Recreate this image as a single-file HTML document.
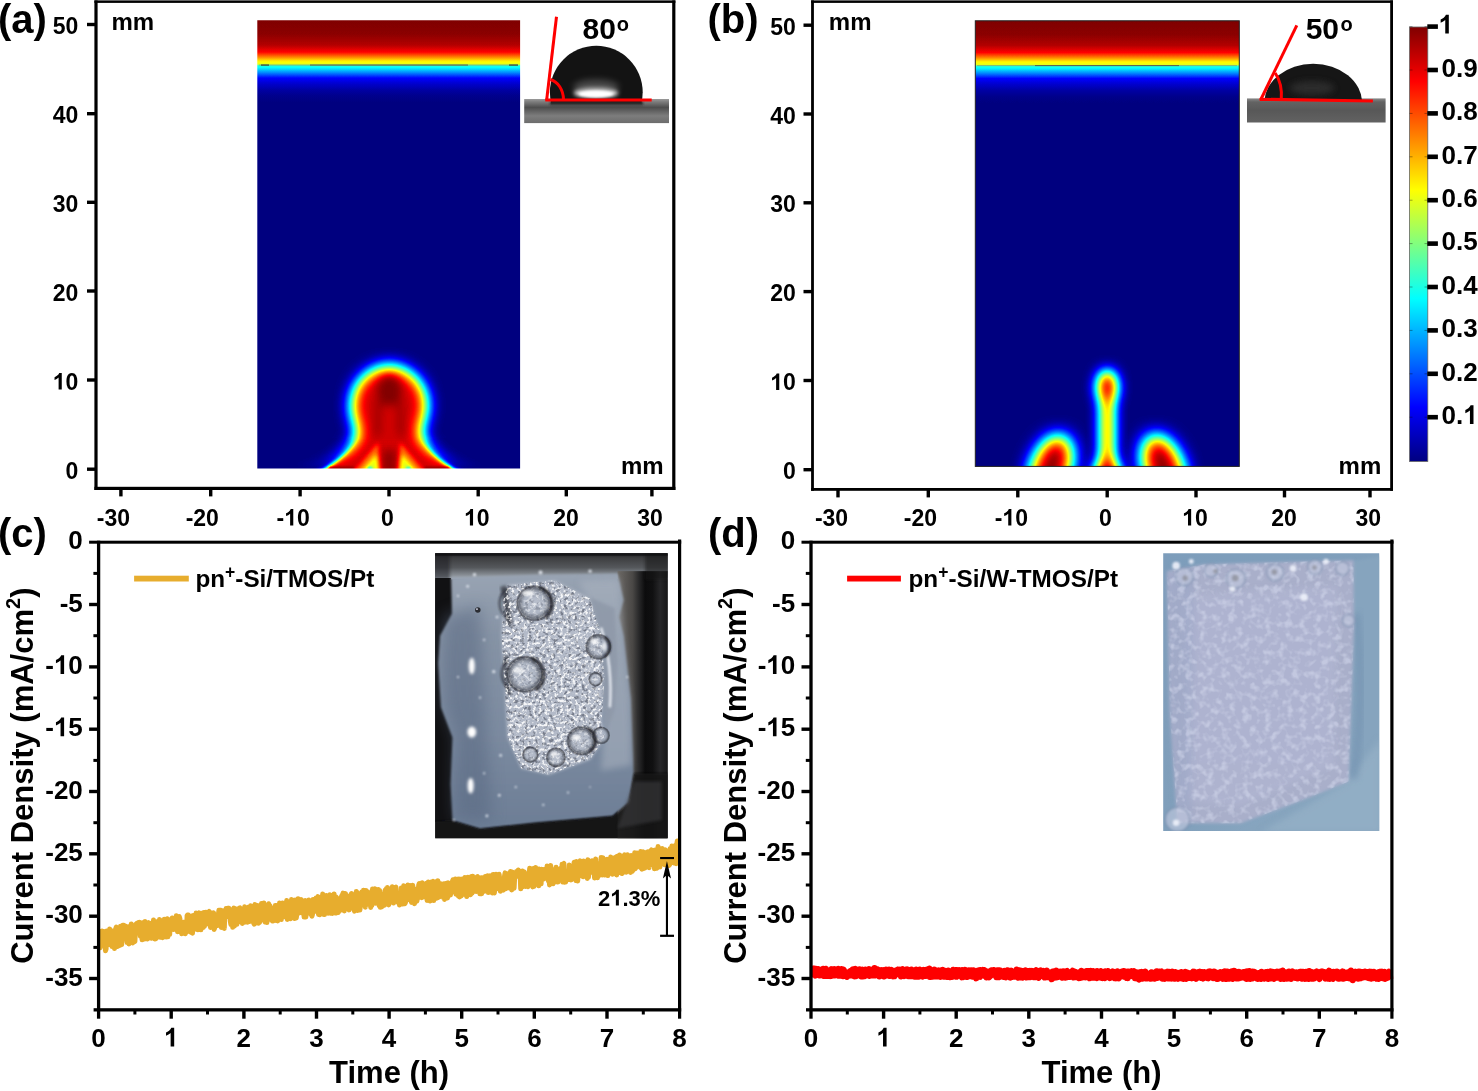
<!DOCTYPE html>
<html><head><meta charset="utf-8"><title>Figure</title>
<style>
html,body{margin:0;padding:0;background:#fff;}
body{width:1478px;height:1091px;overflow:hidden;position:relative;font-family:"Liberation Sans",sans-serif;}
svg{position:absolute;left:0;top:0;display:block;}
text{font-family:"Liberation Sans",sans-serif;font-weight:bold;fill:#000;}
svg{will-change:transform;}
</style></head><body>
<svg width="1478" height="1091" viewBox="0 0 1478 1091">
<defs>
<filter id="jet" color-interpolation-filters="sRGB" x="0" y="0" width="1" height="1" filterUnits="objectBoundingBox">
 <feComponentTransfer>
  <feFuncR type="table" tableValues="0 0 0 0 0.5 1 1 1 0.5"/>
  <feFuncG type="table" tableValues="0 0 0.5 1 1 1 0.5 0 0"/>
  <feFuncB type="table" tableValues="0.5 1 1 1 0.5 0 0 0 0"/>
 </feComponentTransfer>
</filter>
<filter id="b65" x="-50%" y="-50%" width="200%" height="200%" color-interpolation-filters="sRGB"><feGaussianBlur stdDeviation="6.5"/></filter>
<filter id="b8" x="-50%" y="-50%" width="200%" height="200%" color-interpolation-filters="sRGB"><feGaussianBlur stdDeviation="8"/></filter>
<filter id="b5" x="-50%" y="-50%" width="200%" height="200%" color-interpolation-filters="sRGB"><feGaussianBlur stdDeviation="4.5"/></filter>
<filter id="b7" x="-50%" y="-50%" width="200%" height="200%" color-interpolation-filters="sRGB"><feGaussianBlur stdDeviation="7"/></filter>
<filter id="b6" x="-50%" y="-50%" width="200%" height="200%" color-interpolation-filters="sRGB"><feGaussianBlur stdDeviation="6"/></filter>
<filter id="b9" x="-50%" y="-50%" width="200%" height="200%" color-interpolation-filters="sRGB"><feGaussianBlur stdDeviation="9"/></filter>
<filter id="b25" x="-50%" y="-50%" width="200%" height="200%" color-interpolation-filters="sRGB"><feGaussianBlur stdDeviation="2.2"/></filter>
<filter id="b1" x="-50%" y="-50%" width="200%" height="200%"><feGaussianBlur stdDeviation="1"/></filter>
<filter id="b2" x="-50%" y="-50%" width="200%" height="200%"><feGaussianBlur stdDeviation="2"/></filter>
<filter id="b3" x="-50%" y="-50%" width="200%" height="200%"><feGaussianBlur stdDeviation="3"/></filter>
<filter id="b4" x="-50%" y="-50%" width="200%" height="200%"><feGaussianBlur stdDeviation="4"/></filter>
<linearGradient id="topband" x1="0" y1="20.3" x2="0" y2="110.3" gradientUnits="userSpaceOnUse">
 <stop offset="0.0000" stop-color="rgb(255,255,255)"/>
 <stop offset="0.1522" stop-color="rgb(252,252,252)"/>
 <stop offset="0.2744" stop-color="rgb(242,242,242)"/>
 <stop offset="0.3522" stop-color="rgb(223,223,223)"/>
 <stop offset="0.4078" stop-color="rgb(191,191,191)"/>
 <stop offset="0.4522" stop-color="rgb(163,163,163)"/>
 <stop offset="0.4878" stop-color="rgb(153,153,153)"/>
 <stop offset="0.5033" stop-color="rgb(105,105,105)"/>
 <stop offset="0.5300" stop-color="rgb(93,93,93)"/>
 <stop offset="0.5856" stop-color="rgb(64,64,64)"/>
 <stop offset="0.6411" stop-color="rgb(32,32,32)"/>
 <stop offset="0.7078" stop-color="rgb(19,19,19)"/>
 <stop offset="0.7744" stop-color="rgb(9,9,9)"/>
 <stop offset="0.8411" stop-color="rgb(3,3,3)"/>
 <stop offset="0.9189" stop-color="rgb(0,0,0)"/>
 <stop offset="1.0000" stop-color="rgb(0,0,0)"/>
</linearGradient>
<linearGradient id="cbar" x1="0" y1="27" x2="0" y2="461.5" gradientUnits="userSpaceOnUse">
 <stop offset="0" stop-color="#800000"/><stop offset="0.125" stop-color="#ff0000"/><stop offset="0.375" stop-color="#ffff00"/>
 <stop offset="0.5" stop-color="#80ff80"/><stop offset="0.625" stop-color="#00ffff"/><stop offset="0.875" stop-color="#0000ff"/><stop offset="1" stop-color="#000080"/>
</linearGradient>
<linearGradient id="subA" x1="0" y1="0" x2="0" y2="1">
 <stop offset="0" stop-color="#9a9a9a"/><stop offset="0.12" stop-color="#7c7c7c"/><stop offset="0.35" stop-color="#4e4e4e"/><stop offset="0.7" stop-color="#7d7d7d"/><stop offset="1" stop-color="#6c6c6c"/>
</linearGradient>
<linearGradient id="subB" x1="0" y1="0" x2="0" y2="1">
 <stop offset="0" stop-color="#8a8a8a"/><stop offset="0.15" stop-color="#636363"/><stop offset="0.5" stop-color="#585858"/><stop offset="1" stop-color="#626262"/>
</linearGradient>
<clipPath id="clipA"><rect x="257.3" y="20.3" width="262.8" height="448.2"/></clipPath>
<clipPath id="clipB"><rect x="975.3" y="20.8" width="264" height="445.6"/></clipPath>
<clipPath id="clipPC"><rect x="435.2" y="553.3" width="232.4" height="285"/></clipPath>
<clipPath id="clipPD"><rect x="1163.2" y="553.3" width="216" height="277.7"/></clipPath>
</defs>
<defs>
<linearGradient id="mgradA" x1="0" y1="438" x2="0" y2="469" gradientUnits="userSpaceOnUse"><stop offset="0" stop-color="#000"/><stop offset="0.55" stop-color="#777"/><stop offset="1" stop-color="#fff"/></linearGradient>
<mask id="maskA" maskUnits="userSpaceOnUse" x="240" y="340" width="300" height="160"><rect x="240" y="340" width="300" height="160" fill="url(#mgradA)"/></mask>
</defs>
<g clip-path="url(#clipA)"><g filter="url(#jet)">
<rect x="240" y="0" width="300" height="490" fill="#000"/>
<rect x="240" y="0" width="300" height="111" fill="url(#topband)"/>
<g filter="url(#b8)"><path fill="#ebebeb" d="M389.2,365.5 C375.5,365.5 359.5,375 353.5,392 C349.5,404 351,415 355,424 C358,431 357.5,437 353.5,443 C346.5,454 336,462 324.5,469.2 L321,471 L300,478 L300,510 L478,510 L478,478 L457.4,471 L453.9,469.2 C442.4,462 431.9,454 424.9,443 C420.9,437 420.4,431 422.9,424 C427.4,415 428.9,404 424.9,392 C418.9,375 402.9,365.5 389.2,365.5 Z"/></g>
<g mask="url(#maskA)"><rect x="240" y="420" width="300" height="60" fill="#000"/><g filter="url(#b25)"><path fill="#ebebeb" d="M389.2,365.5 C375.5,365.5 359.5,375 353.5,392 C349.5,404 351,415 355,424 C358,431 357.5,437 353.5,443 C346.5,454 336,462 324.5,469.2 L321,471 L300,478 L300,510 L478,510 L478,478 L457.4,471 L453.9,469.2 C442.4,462 431.9,454 424.9,443 C420.9,437 420.4,431 422.9,424 C427.4,415 428.9,404 424.9,392 C418.9,375 402.9,365.5 389.2,365.5 Z"/></g></g>
<g filter="url(#b5)">
<ellipse cx="389.2" cy="391" rx="12" ry="15" fill="#fff" opacity="0.95"/>
<path d="M378.5,400 L377.5,436" stroke="#fff" stroke-width="6" opacity="0.7" fill="none"/>
<path d="M399.9,400 L400.9,436" stroke="#fff" stroke-width="6" opacity="0.7" fill="none"/>
<path d="M389.2,450 L389.2,480" stroke="#fff" stroke-width="12" opacity="0.85" fill="none"/>
</g>
<g filter="url(#b25)">
<path fill="#000" opacity="0.17" d="M378,443 L380.5,474 L352,474 Z"/>
<path fill="#000" opacity="0.17" d="M400.4,443 L397.9,474 L426.4,474 Z"/>
<path fill="#000" opacity="0.22" d="M376.5,454 L379.5,474 L359,474 Z"/>
<path fill="#000" opacity="0.22" d="M401.9,454 L398.9,474 L419.4,474 Z"/>
</g>
<g filter="url(#b1)">
<ellipse cx="370" cy="468.6" rx="2.6" ry="2" fill="#000" opacity="0.32"/>
<ellipse cx="408.4" cy="468.6" rx="2.6" ry="2" fill="#000" opacity="0.32"/>
<path d="M329,468.2 L354,468.2" stroke="#fff" stroke-width="2.5" opacity="0.9"/>
<path d="M424.4,468.2 L449.4,468.2" stroke="#fff" stroke-width="2.5" opacity="0.9"/>
</g>
</g></g>
<rect x="259" y="64.5" width="259" height="1.1" fill="#8a8a70" opacity="0.55"/><rect x="310" y="64.5" width="158" height="1.1" fill="#5c5c4c" opacity="0.9"/><rect x="261" y="64.5" width="8" height="1.1" fill="#333"/><rect x="509" y="64.5" width="9" height="1.1" fill="#333"/>
<g clip-path="url(#clipB)"><g filter="url(#jet)" transform="translate(718.2,0.5)">
<rect x="240" y="0" width="300" height="490" fill="#000"/>
<rect x="240" y="0" width="300" height="111" fill="url(#topband)"/>
<g filter="url(#b9)">
<ellipse cx="332.5" cy="468" rx="19" ry="35" fill="#fff" transform="rotate(20 332.5 468)"/>
<ellipse cx="445.5" cy="468" rx="19" ry="35" fill="#fff" transform="rotate(-20 445.5 468)"/>
</g>
<g filter="url(#b7)">
<rect x="383" y="395" width="12" height="100" fill="#fff"/>
<ellipse cx="389" cy="387" rx="10" ry="17.5" fill="#fff"/>
<path d="M389,444 L403,472 L403,490 L375,490 L375,472 Z" fill="#fff"/>
</g>
</g></g>
<rect x="975.3" y="20.8" width="264" height="445.6" fill="none" stroke="#222" stroke-width="1"/>
<rect x="977" y="65" width="260" height="1.1" fill="#8a8a70" opacity="0.55"/><rect x="1035" y="65" width="144" height="1.1" fill="#5c5c4c" opacity="0.9"/>
<rect x="94.40" y="0.4" width="581.00" height="2.5" fill="#000"/>
<rect x="94.40" y="486.80" width="581.00" height="3.2" fill="#000"/>
<rect x="94.40" y="0.4" width="3.2" height="489.60" fill="#000"/>
<rect x="672.20" y="0.4" width="3.2" height="489.60" fill="#000"/>
<rect x="119.20" y="488.4" width="3.4" height="8" fill="#000"/>
<rect x="209.00" y="488.4" width="3.4" height="8" fill="#000"/>
<rect x="298.40" y="488.4" width="3.4" height="8" fill="#000"/>
<rect x="387.30" y="488.4" width="3.4" height="8" fill="#000"/>
<rect x="476.50" y="488.4" width="3.4" height="8" fill="#000"/>
<rect x="564.60" y="488.4" width="3.4" height="8" fill="#000"/>
<rect x="650.20" y="488.4" width="3.4" height="8" fill="#000"/>
<rect x="87.00" y="22.80" width="9" height="3.4" fill="#000"/>
<rect x="87.00" y="112.00" width="9" height="3.4" fill="#000"/>
<rect x="87.00" y="200.60" width="9" height="3.4" fill="#000"/>
<rect x="87.00" y="289.30" width="9" height="3.4" fill="#000"/>
<rect x="87.00" y="378.30" width="9" height="3.4" fill="#000"/>
<rect x="87.00" y="467.50" width="9" height="3.4" fill="#000"/>
<text x="113.4" y="525.6" font-size="23" text-anchor="middle">-30</text>
<text x="202.3" y="525.6" font-size="23" text-anchor="middle">-20</text>
<text x="276.58" y="525.6" font-size="23">-</text>
<path transform="translate(284.24,525.6) scale(23)" d="M0.393,0 H0.256 V-0.517 Q0.181,-0.447 0.079,-0.413 V-0.538 Q0.133,-0.556 0.196,-0.605 Q0.259,-0.654 0.282,-0.719 H0.393 Z"/>
<text x="297.03" y="525.6" font-size="23">0</text>
<text x="387.4" y="525.6" font-size="23" text-anchor="middle">0</text>
<path transform="translate(464.01,525.6) scale(23)" d="M0.393,0 H0.256 V-0.517 Q0.181,-0.447 0.079,-0.413 V-0.538 Q0.133,-0.556 0.196,-0.605 Q0.259,-0.654 0.282,-0.719 H0.393 Z"/>
<text x="476.80" y="525.6" font-size="23">0</text>
<text x="566" y="525.6" font-size="23" text-anchor="middle">20</text>
<text x="650.1" y="525.6" font-size="23" text-anchor="middle">30</text>
<text x="78.3" y="34" font-size="23" text-anchor="end">50</text>
<text x="78.3" y="123.2" font-size="23" text-anchor="end">40</text>
<text x="78.3" y="211.7" font-size="23" text-anchor="end">30</text>
<text x="78.3" y="300.5" font-size="23" text-anchor="end">20</text>
<path transform="translate(52.72,389.5) scale(23)" d="M0.393,0 H0.256 V-0.517 Q0.181,-0.447 0.079,-0.413 V-0.538 Q0.133,-0.556 0.196,-0.605 Q0.259,-0.654 0.282,-0.719 H0.393 Z"/>
<text x="65.51" y="389.5" font-size="23">0</text>
<text x="78.3" y="478.7" font-size="23" text-anchor="end">0</text>
<text x="111.5" y="30.2" font-size="24">mm</text>
<text x="621" y="473.6" font-size="24">mm</text>
<rect x="811.10" y="0.4" width="581.90" height="2.5" fill="#000"/>
<rect x="811.10" y="488.00" width="581.90" height="2.8" fill="#000"/>
<rect x="811.10" y="0.4" width="2.8" height="490.40" fill="#000"/>
<rect x="1390.20" y="0.4" width="2.8" height="490.40" fill="#000"/>
<rect x="836.30" y="489.4" width="3.4" height="8" fill="#000"/>
<rect x="926.60" y="489.4" width="3.4" height="8" fill="#000"/>
<rect x="1016.10" y="489.4" width="3.4" height="8" fill="#000"/>
<rect x="1105.50" y="489.4" width="3.4" height="8" fill="#000"/>
<rect x="1194.30" y="489.4" width="3.4" height="8" fill="#000"/>
<rect x="1282.80" y="489.4" width="3.4" height="8" fill="#000"/>
<rect x="1368.30" y="489.4" width="3.4" height="8" fill="#000"/>
<rect x="803.50" y="23.50" width="9" height="3.4" fill="#000"/>
<rect x="803.50" y="112.30" width="9" height="3.4" fill="#000"/>
<rect x="803.50" y="201.10" width="9" height="3.4" fill="#000"/>
<rect x="803.50" y="289.90" width="9" height="3.4" fill="#000"/>
<rect x="803.50" y="378.80" width="9" height="3.4" fill="#000"/>
<rect x="803.50" y="468.00" width="9" height="3.4" fill="#000"/>
<text x="831.4999999999999" y="525.6" font-size="23" text-anchor="middle">-30</text>
<text x="920.3999999999999" y="525.6" font-size="23" text-anchor="middle">-20</text>
<text x="994.68" y="525.6" font-size="23">-</text>
<path transform="translate(1002.34,525.6) scale(23)" d="M0.393,0 H0.256 V-0.517 Q0.181,-0.447 0.079,-0.413 V-0.538 Q0.133,-0.556 0.196,-0.605 Q0.259,-0.654 0.282,-0.719 H0.393 Z"/>
<text x="1015.13" y="525.6" font-size="23">0</text>
<text x="1105.4999999999998" y="525.6" font-size="23" text-anchor="middle">0</text>
<path transform="translate(1182.11,525.6) scale(23)" d="M0.393,0 H0.256 V-0.517 Q0.181,-0.447 0.079,-0.413 V-0.538 Q0.133,-0.556 0.196,-0.605 Q0.259,-0.654 0.282,-0.719 H0.393 Z"/>
<text x="1194.90" y="525.6" font-size="23">0</text>
<text x="1284.1" y="525.6" font-size="23" text-anchor="middle">20</text>
<text x="1368.2" y="525.6" font-size="23" text-anchor="middle">30</text>
<text x="795.8" y="34.5" font-size="23" text-anchor="end">50</text>
<text x="795.8" y="123.7" font-size="23" text-anchor="end">40</text>
<text x="795.8" y="212.2" font-size="23" text-anchor="end">30</text>
<text x="795.8" y="301.0" font-size="23" text-anchor="end">20</text>
<path transform="translate(770.22,390.0) scale(23)" d="M0.393,0 H0.256 V-0.517 Q0.181,-0.447 0.079,-0.413 V-0.538 Q0.133,-0.556 0.196,-0.605 Q0.259,-0.654 0.282,-0.719 H0.393 Z"/>
<text x="783.01" y="390.0" font-size="23">0</text>
<text x="795.8" y="479.2" font-size="23" text-anchor="end">0</text>
<text x="828.8" y="30.4" font-size="24">mm</text>
<text x="1338.6" y="474" font-size="24">mm</text>
<text x="-2" y="32.8" font-size="40">(a)</text>
<text x="707.5" y="32.8" font-size="40">(b)</text>
<text x="-2" y="547.2" font-size="40">(c)</text>
<text x="708" y="547.2" font-size="40">(d)</text>
<g>
<rect x="524.2" y="99" width="144.8" height="24.1" fill="url(#subA)"/>
<clipPath id="dropA"><rect x="540" y="40" width="120" height="63.5"/></clipPath><circle cx="596.3" cy="92.2" r="46.4" fill="#131313" clip-path="url(#dropA)"/>
<ellipse cx="596" cy="93" rx="22" ry="5" fill="#fff" filter="url(#b2)"/>
<ellipse cx="596" cy="87" rx="23" ry="7.5" fill="#888" opacity="0.45" filter="url(#b3)"/>
<ellipse cx="596" cy="94" rx="17" ry="3.2" fill="#fff" filter="url(#b1)"/>
<rect x="550" y="101.5" width="93" height="3.5" fill="#2a2a2a" filter="url(#b1)"/>
<line x1="545.3" y1="100" x2="651.7" y2="100" stroke="#f00" stroke-width="3.2"/>
<line x1="546.6" y1="100.5" x2="556.5" y2="16.7" stroke="#f00" stroke-width="3"/>
<path d="M550.5,79.5 A 17 21 0 0 1 563.5,99.5" fill="none" stroke="#f00" stroke-width="3"/>
<text x="582.6" y="39.3" font-size="30">80</text>
<text x="616.8" y="31.2" font-size="20">o</text>
</g>
<g>
<rect x="1247" y="98.4" width="138.6" height="24.1" fill="url(#subB)"/>
<clipPath id="dropB"><rect x="1250" y="55" width="125" height="45.5"/></clipPath><ellipse cx="1313.2" cy="103" rx="49" ry="39.3" fill="#161616" clip-path="url(#dropB)"/>
<ellipse cx="1312" cy="88" rx="22" ry="7" fill="#3a3a3a" opacity="0.6" filter="url(#b3)"/>
<line x1="1259.7" y1="99.3" x2="1372.9" y2="101" stroke="#f00" stroke-width="3.2"/>
<line x1="1260.6" y1="100" x2="1296.8" y2="25.4" stroke="#f00" stroke-width="3"/>
<path d="M1275.2,73 C1280,80 1282,90 1281.3,99.5" fill="none" stroke="#f00" stroke-width="3"/>
<text x="1305.7" y="39.3" font-size="30">50</text>
<text x="1340.4" y="31.2" font-size="20">o</text>
</g>
<rect x="1409.5" y="27" width="18.3" height="434.5" fill="url(#cbar)" stroke="#666" stroke-width="0.8"/>
<rect x="1427.3" y="24.3" width="10.6" height="4.6" fill="#000"/>
<rect x="1409.5" y="26.1" width="3" height="1" fill="#000" opacity="0.35"/>
<rect x="1424.5" y="26.1" width="3" height="1" fill="#000" opacity="0.35"/>
<path transform="translate(1438.60,33.4) scale(26)" d="M0.393,0 H0.256 V-0.517 Q0.181,-0.447 0.079,-0.413 V-0.538 Q0.133,-0.556 0.196,-0.605 Q0.259,-0.654 0.282,-0.719 H0.393 Z"/>
<rect x="1427.3" y="67.7" width="10.6" height="4.6" fill="#000"/>
<rect x="1409.5" y="69.5" width="3" height="1" fill="#000" opacity="0.35"/>
<rect x="1424.5" y="69.5" width="3" height="1" fill="#000" opacity="0.35"/>
<text x="1441.6" y="76.8" font-size="26" text-anchor="start">0.9</text>
<rect x="1427.3" y="111.1" width="10.6" height="4.6" fill="#000"/>
<rect x="1409.5" y="112.9" width="3" height="1" fill="#000" opacity="0.35"/>
<rect x="1424.5" y="112.9" width="3" height="1" fill="#000" opacity="0.35"/>
<text x="1441.6" y="120.2" font-size="26" text-anchor="start">0.8</text>
<rect x="1427.3" y="154.5" width="10.6" height="4.6" fill="#000"/>
<rect x="1409.5" y="156.3" width="3" height="1" fill="#000" opacity="0.35"/>
<rect x="1424.5" y="156.3" width="3" height="1" fill="#000" opacity="0.35"/>
<text x="1441.6" y="163.6" font-size="26" text-anchor="start">0.7</text>
<rect x="1427.3" y="197.9" width="10.6" height="4.6" fill="#000"/>
<rect x="1409.5" y="199.7" width="3" height="1" fill="#000" opacity="0.35"/>
<rect x="1424.5" y="199.7" width="3" height="1" fill="#000" opacity="0.35"/>
<text x="1441.6" y="207.0" font-size="26" text-anchor="start">0.6</text>
<rect x="1427.3" y="241.3" width="10.6" height="4.6" fill="#000"/>
<rect x="1409.5" y="243.1" width="3" height="1" fill="#000" opacity="0.35"/>
<rect x="1424.5" y="243.1" width="3" height="1" fill="#000" opacity="0.35"/>
<text x="1441.6" y="250.4" font-size="26" text-anchor="start">0.5</text>
<rect x="1427.3" y="284.7" width="10.6" height="4.6" fill="#000"/>
<rect x="1409.5" y="286.5" width="3" height="1" fill="#000" opacity="0.35"/>
<rect x="1424.5" y="286.5" width="3" height="1" fill="#000" opacity="0.35"/>
<text x="1441.6" y="293.8" font-size="26" text-anchor="start">0.4</text>
<rect x="1427.3" y="328.1" width="10.6" height="4.6" fill="#000"/>
<rect x="1409.5" y="329.9" width="3" height="1" fill="#000" opacity="0.35"/>
<rect x="1424.5" y="329.9" width="3" height="1" fill="#000" opacity="0.35"/>
<text x="1441.6" y="337.2" font-size="26" text-anchor="start">0.3</text>
<rect x="1427.3" y="371.5" width="10.6" height="4.6" fill="#000"/>
<rect x="1409.5" y="373.3" width="3" height="1" fill="#000" opacity="0.35"/>
<rect x="1424.5" y="373.3" width="3" height="1" fill="#000" opacity="0.35"/>
<text x="1441.6" y="380.6" font-size="26" text-anchor="start">0.2</text>
<rect x="1427.3" y="414.9" width="10.6" height="4.6" fill="#000"/>
<rect x="1409.5" y="416.7" width="3" height="1" fill="#000" opacity="0.35"/>
<rect x="1424.5" y="416.7" width="3" height="1" fill="#000" opacity="0.35"/>
<text x="1441.60" y="424.0" font-size="26">0.</text>
<path transform="translate(1463.28,424.0) scale(26)" d="M0.393,0 H0.256 V-0.517 Q0.181,-0.447 0.079,-0.413 V-0.538 Q0.133,-0.556 0.196,-0.605 Q0.259,-0.654 0.282,-0.719 H0.393 Z"/>
<path d="M99.5,936.7 L100.1,947.7 L100.7,944.3 L101.3,931.5 L101.9,931.0 L102.5,931.1 L103.1,937.4 L103.7,931.4 L104.3,945.3 L104.9,943.9 L105.5,950.8 L106.1,949.0 L106.7,930.9 L107.3,933.5 L107.9,931.1 L108.5,944.5 L109.1,941.9 L109.7,928.9 L110.3,944.9 L110.9,932.7 L111.5,936.0 L112.1,946.5 L112.7,931.0 L113.3,940.0 L113.9,944.9 L114.5,948.6 L115.1,934.0 L115.7,928.8 L116.3,927.0 L116.9,944.8 L117.5,946.4 L118.1,943.3 L118.7,940.6 L119.3,945.5 L119.9,934.7 L120.5,926.3 L121.1,941.6 L121.7,944.6 L122.3,931.5 L122.9,925.2 L123.5,927.1 L124.1,925.4 L124.7,926.3 L125.3,931.3 L125.9,926.2 L126.5,937.5 L127.1,942.5 L127.7,928.6 L128.3,929.9 L128.9,943.9 L129.5,926.6 L130.1,927.3 L130.7,937.6 L131.3,923.9 L131.9,929.3 L132.5,943.0 L133.1,934.7 L133.7,938.7 L134.3,941.9 L134.9,941.4 L135.5,928.9 L136.1,924.1 L136.7,923.5 L137.3,925.4 L137.9,927.4 L138.5,922.4 L139.1,923.5 L139.7,922.5 L140.3,936.2 L140.9,925.4 L141.5,927.3 L142.1,939.8 L142.7,929.6 L143.3,922.6 L143.9,926.4 L144.5,939.1 L145.1,921.5 L145.7,932.9 L146.3,933.3 L146.9,932.6 L147.5,939.0 L148.1,924.2 L148.7,922.7 L149.3,932.4 L149.9,925.1 L150.5,937.7 L151.1,938.2 L151.7,937.6 L152.3,922.9 L152.9,925.0 L153.5,920.0 L154.1,923.1 L154.7,938.9 L155.3,938.6 L155.9,938.7 L156.5,922.1 L157.1,921.6 L157.7,933.2 L158.3,936.7 L158.9,933.6 L159.5,919.6 L160.1,937.3 L160.7,935.0 L161.3,920.6 L161.9,923.0 L162.5,937.7 L163.1,924.2 L163.7,934.0 L164.3,919.3 L164.9,936.4 L165.5,919.4 L166.1,937.1 L166.7,922.4 L167.3,918.8 L167.9,936.7 L168.5,928.7 L169.1,923.9 L169.7,934.5 L170.3,920.1 L170.9,919.8 L171.5,920.0 L172.1,918.0 L172.7,921.5 L173.3,929.6 L173.9,922.8 L174.5,926.3 L175.1,927.5 L175.7,923.0 L176.3,915.8 L176.9,917.9 L177.5,931.7 L178.1,920.2 L178.7,928.0 L179.3,916.6 L179.9,918.6 L180.5,932.1 L181.1,927.9 L181.7,933.8 L182.3,928.9 L182.9,925.8 L183.5,922.2 L184.1,923.1 L184.7,930.3 L185.3,933.7 L185.9,927.1 L186.5,932.2 L187.1,915.7 L187.7,915.0 L188.3,914.9 L188.9,931.0 L189.5,915.8 L190.1,928.8 L190.7,932.1 L191.3,916.5 L191.9,919.6 L192.5,933.2 L193.1,915.4 L193.7,924.4 L194.3,915.7 L194.9,929.2 L195.5,925.6 L196.1,913.1 L196.7,927.1 L197.3,913.5 L197.9,929.8 L198.5,913.8 L199.1,912.9 L199.7,916.0 L200.3,919.0 L200.9,929.8 L201.5,914.0 L202.1,925.1 L202.7,913.0 L203.3,927.4 L203.9,912.6 L204.5,926.2 L205.1,912.6 L205.7,912.3 L206.3,919.0 L206.9,923.9 L207.5,914.9 L208.1,922.8 L208.7,912.4 L209.3,911.5 L209.9,915.3 L210.5,927.5 L211.1,920.7 L211.7,915.7 L212.3,913.9 L212.9,926.7 L213.5,912.8 L214.1,929.4 L214.7,927.8 L215.3,919.4 L215.9,916.0 L216.5,925.4 L217.1,914.8 L217.7,925.6 L218.3,915.9 L218.9,910.2 L219.5,910.3 L220.1,912.8 L220.7,910.3 L221.3,927.5 L221.9,913.0 L222.5,913.1 L223.1,910.9 L223.7,912.4 L224.3,928.4 L224.9,912.0 L225.5,912.9 L226.1,908.5 L226.7,916.7 L227.3,910.9 L227.9,908.3 L228.5,909.2 L229.1,908.5 L229.7,912.2 L230.3,921.3 L230.9,924.4 L231.5,923.7 L232.1,913.5 L232.7,927.3 L233.3,923.6 L233.9,907.9 L234.5,925.9 L235.1,923.5 L235.7,908.8 L236.3,917.6 L236.9,924.3 L237.5,920.2 L238.1,922.2 L238.7,909.7 L239.3,908.2 L239.9,907.8 L240.5,919.1 L241.1,920.7 L241.7,914.7 L242.3,923.4 L242.9,916.5 L243.5,921.0 L244.1,922.2 L244.7,906.7 L245.3,921.9 L245.9,922.0 L246.5,914.8 L247.1,913.9 L247.7,922.2 L248.3,920.0 L248.9,907.1 L249.5,921.6 L250.1,918.0 L250.7,905.7 L251.3,920.1 L251.9,920.1 L252.5,916.0 L253.1,912.6 L253.7,923.2 L254.3,924.2 L254.9,904.5 L255.5,921.9 L256.1,911.6 L256.7,906.9 L257.3,906.8 L257.9,905.7 L258.5,923.3 L259.1,921.4 L259.7,922.2 L260.3,906.7 L260.9,912.3 L261.5,903.5 L262.1,910.8 L262.7,905.0 L263.3,907.7 L263.9,903.1 L264.5,920.9 L265.1,922.0 L265.7,921.6 L266.3,908.3 L266.9,922.6 L267.5,907.9 L268.1,906.3 L268.7,903.7 L269.3,906.3 L269.9,905.6 L270.5,913.2 L271.1,907.7 L271.7,920.5 L272.3,916.4 L272.9,921.1 L273.5,917.8 L274.1,918.0 L274.7,918.2 L275.3,905.5 L275.9,920.5 L276.5,909.5 L277.1,905.4 L277.7,920.9 L278.3,916.0 L278.9,913.7 L279.5,903.1 L280.1,903.6 L280.7,910.3 L281.3,919.5 L281.9,908.0 L282.5,903.0 L283.1,905.4 L283.7,903.5 L284.3,913.3 L284.9,916.7 L285.5,906.6 L286.1,905.7 L286.7,900.6 L287.3,919.4 L287.9,910.2 L288.5,917.9 L289.1,903.3 L289.7,905.6 L290.3,918.8 L290.9,917.7 L291.5,899.6 L292.1,917.8 L292.7,914.1 L293.3,905.0 L293.9,916.6 L294.5,918.5 L295.1,900.1 L295.7,910.2 L296.3,917.9 L296.9,913.3 L297.5,906.1 L298.1,898.8 L298.7,901.4 L299.3,913.0 L299.9,899.8 L300.5,912.6 L301.1,899.4 L301.7,909.5 L302.3,903.8 L302.9,913.3 L303.5,901.9 L304.1,917.1 L304.7,916.1 L305.3,900.6 L305.9,916.9 L306.5,901.7 L307.1,906.9 L307.7,903.8 L308.3,912.3 L308.9,900.0 L309.5,901.8 L310.1,912.3 L310.7,914.1 L311.3,907.3 L311.9,916.2 L312.5,914.2 L313.1,899.4 L313.7,900.5 L314.3,905.7 L314.9,899.2 L315.5,911.3 L316.1,898.0 L316.7,898.8 L317.3,897.7 L317.9,896.6 L318.5,914.5 L319.1,912.0 L319.7,914.8 L320.3,898.0 L320.9,912.0 L321.5,910.5 L322.1,900.9 L322.7,893.9 L323.3,899.1 L323.9,914.6 L324.5,914.6 L325.1,900.2 L325.7,912.5 L326.3,895.4 L326.9,900.3 L327.5,897.2 L328.1,913.3 L328.7,900.9 L329.3,911.3 L329.9,894.8 L330.5,913.3 L331.1,910.7 L331.7,899.0 L332.3,913.5 L332.9,897.6 L333.5,898.4 L334.1,893.9 L334.7,912.7 L335.3,913.0 L335.9,896.7 L336.5,913.0 L337.1,899.3 L337.7,900.3 L338.3,912.4 L338.9,910.6 L339.5,910.8 L340.1,907.0 L340.7,897.5 L341.3,910.0 L341.9,895.4 L342.5,896.1 L343.1,893.1 L343.7,897.3 L344.3,911.0 L344.9,896.1 L345.5,893.6 L346.1,908.2 L346.7,895.4 L347.3,906.4 L347.9,908.6 L348.5,907.1 L349.1,909.9 L349.7,904.8 L350.3,908.2 L350.9,895.0 L351.5,893.6 L352.1,904.8 L352.7,897.6 L353.3,902.2 L353.9,908.8 L354.5,911.1 L355.1,899.5 L355.7,909.0 L356.3,891.5 L356.9,892.4 L357.5,910.5 L358.1,909.9 L358.7,909.0 L359.3,894.2 L359.9,909.9 L360.5,904.2 L361.1,893.3 L361.7,892.1 L362.3,893.7 L362.9,905.1 L363.5,890.2 L364.1,905.4 L364.7,894.4 L365.3,907.2 L365.9,890.6 L366.5,895.8 L367.1,904.3 L367.7,891.7 L368.3,895.9 L368.9,893.8 L369.5,893.8 L370.1,894.5 L370.7,907.4 L371.3,894.5 L371.9,905.3 L372.5,889.0 L373.1,895.6 L373.7,895.1 L374.3,896.6 L374.9,888.8 L375.5,903.2 L376.1,889.6 L376.7,894.0 L377.3,890.2 L377.9,899.8 L378.5,889.6 L379.1,905.6 L379.7,890.6 L380.3,907.3 L380.9,896.6 L381.5,906.9 L382.1,906.5 L382.7,905.4 L383.3,904.7 L383.9,893.8 L384.5,905.2 L385.1,890.3 L385.7,898.6 L386.3,888.8 L386.9,903.3 L387.5,887.6 L388.1,903.7 L388.7,904.8 L389.3,900.6 L389.9,901.2 L390.5,893.4 L391.1,893.4 L391.7,893.9 L392.3,886.7 L392.9,895.4 L393.5,903.1 L394.1,894.0 L394.7,894.4 L395.3,887.7 L395.9,887.2 L396.5,896.9 L397.1,900.5 L397.7,902.1 L398.3,896.8 L398.9,896.2 L399.5,905.0 L400.1,903.7 L400.7,901.7 L401.3,887.9 L401.9,894.4 L402.5,904.1 L403.1,902.3 L403.7,885.8 L404.3,901.7 L404.9,903.6 L405.5,902.4 L406.1,895.1 L406.7,887.4 L407.3,895.3 L407.9,885.0 L408.5,886.5 L409.1,899.8 L409.7,886.5 L410.3,885.7 L410.9,898.7 L411.5,902.4 L412.1,897.3 L412.7,885.2 L413.3,898.3 L413.9,901.1 L414.5,903.6 L415.1,889.0 L415.7,890.8 L416.3,900.0 L416.9,901.0 L417.5,898.0 L418.1,896.7 L418.7,885.1 L419.3,883.5 L419.9,897.2 L420.5,894.0 L421.1,884.5 L421.7,897.7 L422.3,882.7 L422.9,884.0 L423.5,885.6 L424.1,896.0 L424.7,896.7 L425.3,884.1 L425.9,885.6 L426.5,883.4 L427.1,900.5 L427.7,888.3 L428.3,882.1 L428.9,894.8 L429.5,896.6 L430.1,901.0 L430.7,885.0 L431.3,882.1 L431.9,887.8 L432.5,882.2 L433.1,881.5 L433.7,900.6 L434.3,883.8 L434.9,891.9 L435.5,898.6 L436.1,885.4 L436.7,881.5 L437.3,897.9 L437.9,880.8 L438.5,897.2 L439.1,897.1 L439.7,883.6 L440.3,883.6 L440.9,885.3 L441.5,896.0 L442.1,896.2 L442.7,892.8 L443.3,897.3 L443.9,883.7 L444.5,899.5 L445.1,898.3 L445.7,883.4 L446.3,896.2 L446.9,896.2 L447.5,898.0 L448.1,882.7 L448.7,893.9 L449.3,894.5 L449.9,887.4 L450.5,894.9 L451.1,886.2 L451.7,892.1 L452.3,881.8 L452.9,879.9 L453.5,880.7 L454.1,880.1 L454.7,883.7 L455.3,878.9 L455.9,894.2 L456.5,894.2 L457.1,879.2 L457.7,883.7 L458.3,895.9 L458.9,879.0 L459.5,897.0 L460.1,879.3 L460.7,879.3 L461.3,895.9 L461.9,892.3 L462.5,892.1 L463.1,878.8 L463.7,894.2 L464.3,882.0 L464.9,877.6 L465.5,881.2 L466.1,882.6 L466.7,896.6 L467.3,895.1 L467.9,877.3 L468.5,883.9 L469.1,881.8 L469.7,888.8 L470.3,894.8 L470.9,894.1 L471.5,876.4 L472.1,893.1 L472.7,876.3 L473.3,885.3 L473.9,878.5 L474.5,881.1 L475.1,879.5 L475.7,879.8 L476.3,891.5 L476.9,877.0 L477.5,876.6 L478.1,891.2 L478.7,889.8 L479.3,881.5 L479.9,893.8 L480.5,893.7 L481.1,877.8 L481.7,893.7 L482.3,880.6 L482.9,877.9 L483.5,886.6 L484.1,891.3 L484.7,879.7 L485.3,876.5 L485.9,889.5 L486.5,876.5 L487.1,891.2 L487.7,875.7 L488.3,892.6 L488.9,876.5 L489.5,889.7 L490.1,875.8 L490.7,877.1 L491.3,885.2 L491.9,878.3 L492.5,893.1 L493.1,874.6 L493.7,874.6 L494.3,893.0 L494.9,889.4 L495.5,875.6 L496.1,874.3 L496.7,878.8 L497.3,878.9 L497.9,888.4 L498.5,887.1 L499.1,874.3 L499.7,878.7 L500.3,891.2 L500.9,885.5 L501.5,878.9 L502.1,888.3 L502.7,889.0 L503.3,890.0 L503.9,886.5 L504.5,876.2 L505.1,872.9 L505.7,888.7 L506.3,886.0 L506.9,878.2 L507.5,885.6 L508.1,886.6 L508.7,873.6 L509.3,888.1 L509.9,880.0 L510.5,871.4 L511.1,872.9 L511.7,890.0 L512.3,871.9 L512.9,882.8 L513.5,881.6 L514.1,888.2 L514.7,876.8 L515.3,873.0 L515.9,876.2 L516.5,871.6 L517.1,875.3 L517.7,873.7 L518.3,870.0 L518.9,876.4 L519.5,874.9 L520.1,872.6 L520.7,888.8 L521.3,872.3 L521.9,875.3 L522.5,870.9 L523.1,886.7 L523.7,877.2 L524.3,872.0 L524.9,874.1 L525.5,886.5 L526.1,876.8 L526.7,881.1 L527.3,886.4 L527.9,886.6 L528.5,874.1 L529.1,875.2 L529.7,868.3 L530.3,872.1 L530.9,872.3 L531.5,874.9 L532.1,882.9 L532.7,886.9 L533.3,868.4 L533.9,886.5 L534.5,869.4 L535.1,882.0 L535.7,867.5 L536.3,882.3 L536.9,868.5 L537.5,870.3 L538.1,872.1 L538.7,885.8 L539.3,869.1 L539.9,880.8 L540.5,881.9 L541.1,883.8 L541.7,869.2 L542.3,878.4 L542.9,873.6 L543.5,879.0 L544.1,869.4 L544.7,875.4 L545.3,874.1 L545.9,875.1 L546.5,878.1 L547.1,865.9 L547.7,873.8 L548.3,880.8 L548.9,871.2 L549.5,885.0 L550.1,880.0 L550.7,865.6 L551.3,880.7 L551.9,869.9 L552.5,876.0 L553.1,883.7 L553.7,881.0 L554.3,869.7 L554.9,870.2 L555.5,876.3 L556.1,867.3 L556.7,871.2 L557.3,882.1 L557.9,882.1 L558.5,874.7 L559.1,874.9 L559.7,879.0 L560.3,868.7 L560.9,868.1 L561.5,878.3 L562.1,864.2 L562.7,882.1 L563.3,864.1 L563.9,863.5 L564.5,882.3 L565.1,878.2 L565.7,882.0 L566.3,877.2 L566.9,878.6 L567.5,878.2 L568.1,877.9 L568.7,879.4 L569.3,864.9 L569.9,879.4 L570.5,877.3 L571.1,879.9 L571.7,875.0 L572.3,866.3 L572.9,866.5 L573.5,876.6 L574.1,862.4 L574.7,862.2 L575.3,879.1 L575.9,880.5 L576.5,861.6 L577.1,874.9 L577.7,881.0 L578.3,867.6 L578.9,875.8 L579.5,862.9 L580.1,860.9 L580.7,862.3 L581.3,861.7 L581.9,862.2 L582.5,876.5 L583.1,876.7 L583.7,860.9 L584.3,876.2 L584.9,876.3 L585.5,874.4 L586.1,867.7 L586.7,863.2 L587.3,878.5 L587.9,859.8 L588.5,877.1 L589.1,863.8 L589.7,861.4 L590.3,868.0 L590.9,864.6 L591.5,866.2 L592.1,860.8 L592.7,864.2 L593.3,873.2 L593.9,864.5 L594.5,877.9 L595.1,871.4 L595.7,859.1 L596.3,874.1 L596.9,863.0 L597.5,877.8 L598.1,871.8 L598.7,864.8 L599.3,863.5 L599.9,871.5 L600.5,875.1 L601.1,857.5 L601.7,864.1 L602.3,874.9 L602.9,857.7 L603.5,874.6 L604.1,870.1 L604.7,875.0 L605.3,872.3 L605.9,861.8 L606.5,869.3 L607.1,859.2 L607.7,875.6 L608.3,870.3 L608.9,864.2 L609.5,859.6 L610.1,873.3 L610.7,857.1 L611.3,872.8 L611.9,869.1 L612.5,874.2 L613.1,864.0 L613.7,858.0 L614.3,857.8 L614.9,860.7 L615.5,861.5 L616.1,857.0 L616.7,875.0 L617.3,856.3 L617.9,872.0 L618.5,868.5 L619.1,866.1 L619.7,855.0 L620.3,872.7 L620.9,867.4 L621.5,871.3 L622.1,873.5 L622.7,871.7 L623.3,857.4 L623.9,856.5 L624.5,854.8 L625.1,866.4 L625.7,861.3 L626.3,872.3 L626.9,867.1 L627.5,854.8 L628.1,856.7 L628.7,867.7 L629.3,868.2 L629.9,860.3 L630.5,872.4 L631.1,855.6 L631.7,856.1 L632.3,871.3 L632.9,870.3 L633.5,869.5 L634.1,867.0 L634.7,852.8 L635.3,868.7 L635.9,867.3 L636.5,865.4 L637.1,853.0 L637.7,855.1 L638.3,860.1 L638.9,854.6 L639.5,866.7 L640.1,867.3 L640.7,851.6 L641.3,854.0 L641.9,869.2 L642.5,852.6 L643.1,851.9 L643.7,868.6 L644.3,858.1 L644.9,868.1 L645.5,864.8 L646.1,853.2 L646.7,866.1 L647.3,851.9 L647.9,853.6 L648.5,851.8 L649.1,867.7 L649.7,851.8 L650.3,854.1 L650.9,850.9 L651.5,850.0 L652.1,864.5 L652.7,857.6 L653.3,852.6 L653.9,854.4 L654.5,868.8 L655.1,850.0 L655.7,867.4 L656.3,864.8 L656.9,868.2 L657.5,865.8 L658.1,846.4 L658.7,866.0 L659.3,850.5 L659.9,866.9 L660.5,861.0 L661.1,850.1 L661.7,863.7 L662.3,848.6 L662.9,861.5 L663.5,851.2 L664.1,861.4 L664.7,864.7 L665.3,849.8 L665.9,863.3 L666.5,863.0 L667.1,864.3 L667.7,864.7 L668.3,855.8 L668.9,865.4 L669.5,864.8 L670.1,848.7 L670.7,851.7 L671.3,851.7 L671.9,846.1 L672.5,853.1 L673.1,847.1 L673.7,862.9 L674.3,849.6 L674.9,850.5 L675.5,845.3 L676.1,863.7 L676.7,855.1 L677.3,855.8 L677.9,863.1 L678.5,845.6 L676.5,846.0 L677.3,841.0 L678.2,858.0" fill="none" stroke="#e7ad2e" stroke-width="5" stroke-linejoin="round" stroke-linecap="round"/>
<rect x="134.1" y="575.7" width="54.7" height="5.8" fill="#e7ad2e"/>
<text x="195.4" y="586.8" font-size="24.3">pn<tspan font-size="17.5" dy="-9">+</tspan><tspan dy="9">-Si/TMOS/Pt</tspan></text>
<path d="M812.8,969.7 L813.2,968.7 L813.7,974.6 L814.2,968.7 L814.6,973.8 L815.1,974.7 L815.5,975.5 L816.0,968.8 L816.4,971.9 L816.9,969.9 L817.3,970.7 L817.8,973.9 L818.2,969.2 L818.7,974.9 L819.1,975.3 L819.6,970.6 L820.0,975.4 L820.5,970.7 L820.9,975.1 L821.4,969.7 L821.8,971.0 L822.3,975.3 L822.7,975.3 L823.2,968.9 L823.6,975.9 L824.1,969.8 L824.5,974.3 L825.0,973.3 L825.4,971.0 L825.9,968.8 L826.3,976.0 L826.8,975.9 L827.2,975.3 L827.7,975.7 L828.1,974.4 L828.6,974.6 L829.0,973.5 L829.5,974.3 L829.9,973.2 L830.4,976.0 L830.8,970.1 L831.3,969.2 L831.7,976.0 L832.2,969.9 L832.6,973.4 L833.1,969.3 L833.5,970.1 L834.0,970.1 L834.4,969.1 L834.9,975.5 L835.3,973.9 L835.8,969.6 L836.2,971.5 L836.7,974.3 L837.1,970.2 L837.6,969.7 L838.0,970.7 L838.5,968.9 L838.9,975.7 L839.4,973.8 L839.8,970.1 L840.3,970.2 L840.7,969.5 L841.2,975.7 L841.6,969.1 L842.1,971.3 L842.5,969.3 L843.0,976.1 L843.4,969.5 L843.9,970.5 L844.3,974.3 L844.8,975.5 L845.2,975.1 L845.7,975.2 L846.1,975.4 L846.6,975.9 L847.0,976.9 L847.5,975.3 L847.9,972.3 L848.4,974.0 L848.8,975.4 L849.3,974.3 L849.7,971.5 L850.2,975.1 L850.6,970.9 L851.1,970.8 L851.5,975.4 L852.0,972.5 L852.4,969.7 L852.9,969.5 L853.3,974.1 L853.8,976.0 L854.2,975.7 L854.7,976.2 L855.1,971.2 L855.6,969.0 L856.0,974.0 L856.5,976.0 L856.9,973.7 L857.4,973.4 L857.8,974.9 L858.3,970.7 L858.7,970.7 L859.2,974.9 L859.6,969.4 L860.1,971.0 L860.5,974.1 L861.0,976.3 L861.4,971.4 L861.9,976.4 L862.3,973.6 L862.8,969.7 L863.2,976.3 L863.7,973.3 L864.1,976.0 L864.6,975.7 L865.0,976.0 L865.5,969.7 L865.9,973.3 L866.4,969.8 L866.8,974.6 L867.3,970.7 L867.7,974.7 L868.2,971.2 L868.6,970.4 L869.1,969.1 L869.5,975.8 L870.0,974.9 L870.4,972.5 L870.9,970.2 L871.3,973.7 L871.8,974.2 L872.2,969.6 L872.7,975.4 L873.1,969.5 L873.6,973.6 L874.0,974.6 L874.5,968.1 L874.9,975.5 L875.4,975.2 L875.8,969.8 L876.3,969.5 L876.7,974.3 L877.2,971.6 L877.6,969.3 L878.1,974.3 L878.5,971.5 L879.0,970.2 L879.4,976.3 L879.9,970.6 L880.3,975.8 L880.8,974.5 L881.2,972.5 L881.7,970.2 L882.1,975.3 L882.6,970.6 L883.0,972.2 L883.5,970.2 L883.9,970.9 L884.4,976.5 L884.8,974.2 L885.3,973.8 L885.7,971.3 L886.2,969.7 L886.6,970.9 L887.1,970.0 L887.5,970.2 L888.0,975.0 L888.4,969.8 L888.9,969.6 L889.3,975.9 L889.8,971.7 L890.2,975.8 L890.7,970.9 L891.1,971.1 L891.6,970.1 L892.0,973.3 L892.5,971.8 L892.9,975.3 L893.4,976.3 L893.8,971.1 L894.3,974.7 L894.7,976.2 L895.2,973.6 L895.6,970.5 L896.1,971.2 L896.5,974.3 L897.0,971.2 L897.4,970.0 L897.9,970.8 L898.3,969.7 L898.8,971.0 L899.2,970.6 L899.7,970.7 L900.1,969.8 L900.6,970.6 L901.0,976.4 L901.5,976.3 L901.9,969.8 L902.4,969.4 L902.8,975.1 L903.3,971.5 L903.7,975.4 L904.2,976.1 L904.6,974.9 L905.1,969.8 L905.5,975.6 L906.0,969.5 L906.4,970.0 L906.9,970.7 L907.3,969.5 L907.8,975.0 L908.2,976.1 L908.7,975.5 L909.1,971.7 L909.6,970.3 L910.0,976.1 L910.5,970.7 L910.9,976.2 L911.4,969.6 L911.8,969.8 L912.3,970.3 L912.7,975.7 L913.2,975.4 L913.6,975.7 L914.1,970.7 L914.5,976.6 L915.0,976.6 L915.4,975.7 L915.9,975.0 L916.3,969.6 L916.8,971.7 L917.2,976.6 L917.7,975.8 L918.1,975.5 L918.6,970.6 L919.0,976.7 L919.5,974.3 L919.9,969.7 L920.4,971.6 L920.8,970.9 L921.3,975.6 L921.7,970.5 L922.2,973.8 L922.6,976.6 L923.1,970.8 L923.5,970.1 L924.0,971.1 L924.4,974.3 L924.9,970.2 L925.3,974.8 L925.8,975.9 L926.2,970.0 L926.7,971.3 L927.1,969.7 L927.6,970.3 L928.0,972.0 L928.5,971.0 L928.9,971.3 L929.4,968.6 L929.8,976.9 L930.3,969.9 L930.7,976.9 L931.2,970.0 L931.6,971.9 L932.1,974.7 L932.5,976.7 L933.0,975.1 L933.4,975.3 L933.9,970.6 L934.3,969.7 L934.8,976.3 L935.2,970.4 L935.7,976.4 L936.1,970.3 L936.6,976.3 L937.0,971.1 L937.5,976.3 L937.9,971.4 L938.4,971.4 L938.8,970.6 L939.3,974.7 L939.7,976.3 L940.2,976.7 L940.6,972.9 L941.1,970.3 L941.5,974.8 L942.0,975.6 L942.4,972.1 L942.9,970.0 L943.3,972.1 L943.8,976.7 L944.2,976.4 L944.7,976.2 L945.1,970.9 L945.6,974.0 L946.0,971.3 L946.5,975.5 L946.9,976.7 L947.4,971.0 L947.8,974.7 L948.3,970.5 L948.7,971.2 L949.2,977.0 L949.6,976.6 L950.1,977.0 L950.5,976.3 L951.0,975.6 L951.4,971.1 L951.9,976.9 L952.3,975.4 L952.8,971.4 L953.2,969.8 L953.7,975.6 L954.1,970.1 L954.6,971.6 L955.0,971.9 L955.5,974.8 L955.9,970.2 L956.4,976.7 L956.8,970.2 L957.3,970.9 L957.7,974.4 L958.2,972.9 L958.6,970.7 L959.1,970.2 L959.5,975.0 L960.0,971.9 L960.4,972.2 L960.9,974.7 L961.3,976.1 L961.8,977.2 L962.2,970.2 L962.7,971.8 L963.1,977.1 L963.6,976.3 L964.0,976.3 L964.5,970.8 L964.9,969.9 L965.4,970.7 L965.8,975.9 L966.3,976.8 L966.7,976.7 L967.2,976.9 L967.6,970.5 L968.1,971.5 L968.5,975.8 L969.0,970.3 L969.4,976.1 L969.9,976.0 L970.3,975.3 L970.8,974.7 L971.2,970.3 L971.7,975.8 L972.1,970.7 L972.6,976.6 L973.0,970.3 L973.5,970.3 L973.9,970.7 L974.4,971.2 L974.8,971.8 L975.3,976.8 L975.7,975.9 L976.2,978.3 L976.6,971.5 L977.1,973.8 L977.5,976.5 L978.0,970.7 L978.4,975.8 L978.9,972.8 L979.3,976.7 L979.8,976.8 L980.2,970.2 L980.7,970.9 L981.1,975.2 L981.6,970.6 L982.0,972.7 L982.5,971.9 L982.9,970.0 L983.4,971.5 L983.8,972.6 L984.3,970.1 L984.7,975.8 L985.2,971.2 L985.6,971.1 L986.1,974.6 L986.5,977.4 L987.0,975.0 L987.4,976.9 L987.9,975.6 L988.3,971.8 L988.8,976.6 L989.2,977.2 L989.7,971.4 L990.1,976.3 L990.6,975.7 L991.0,974.9 L991.5,970.3 L991.9,971.5 L992.4,973.0 L992.8,971.1 L993.3,971.7 L993.7,970.1 L994.2,972.6 L994.6,975.1 L995.1,970.8 L995.5,971.4 L996.0,976.3 L996.4,977.2 L996.9,977.2 L997.3,970.4 L997.8,975.3 L998.2,971.8 L998.7,972.4 L999.1,970.4 L999.6,977.1 L1000.0,971.2 L1000.5,970.8 L1000.9,976.2 L1001.4,972.2 L1001.8,975.5 L1002.3,975.8 L1002.7,976.4 L1003.2,975.5 L1003.6,976.7 L1004.1,971.8 L1004.5,970.9 L1005.0,977.1 L1005.4,977.3 L1005.9,971.7 L1006.3,975.9 L1006.8,976.1 L1007.2,970.4 L1007.7,970.3 L1008.1,971.7 L1008.6,975.5 L1009.0,972.5 L1009.5,977.3 L1009.9,977.5 L1010.4,975.7 L1010.8,971.7 L1011.3,970.8 L1011.7,976.6 L1012.2,976.8 L1012.6,974.9 L1013.1,975.1 L1013.5,975.6 L1014.0,976.5 L1014.4,976.3 L1014.9,976.7 L1015.3,976.7 L1015.8,972.8 L1016.2,974.7 L1016.7,969.7 L1017.1,973.1 L1017.6,976.7 L1018.0,977.6 L1018.5,976.6 L1018.9,970.4 L1019.4,970.5 L1019.8,975.2 L1020.3,977.4 L1020.7,970.9 L1021.2,976.5 L1021.6,970.9 L1022.1,976.7 L1022.5,977.6 L1023.0,975.9 L1023.4,976.9 L1023.9,971.8 L1024.3,970.7 L1024.8,970.6 L1025.2,972.4 L1025.7,970.5 L1026.1,972.4 L1026.6,977.5 L1027.0,971.3 L1027.5,971.5 L1027.9,971.3 L1028.4,976.7 L1028.8,971.7 L1029.3,971.3 L1029.7,971.0 L1030.2,977.2 L1030.6,976.7 L1031.1,971.6 L1031.5,973.4 L1032.0,971.0 L1032.4,975.7 L1032.9,975.5 L1033.3,971.3 L1033.8,972.1 L1034.2,977.2 L1034.7,977.2 L1035.1,971.7 L1035.6,970.8 L1036.0,970.4 L1036.5,971.0 L1036.9,970.8 L1037.4,976.3 L1037.8,972.0 L1038.3,976.5 L1038.7,977.7 L1039.2,971.4 L1039.6,976.4 L1040.1,974.5 L1040.5,972.8 L1041.0,970.5 L1041.4,971.9 L1041.9,970.9 L1042.3,971.0 L1042.8,971.2 L1043.2,971.0 L1043.7,974.3 L1044.1,972.2 L1044.6,977.5 L1045.0,971.4 L1045.5,977.4 L1045.9,971.7 L1046.4,971.6 L1046.8,970.6 L1047.3,972.6 L1047.7,971.6 L1048.2,976.5 L1048.6,975.3 L1049.1,976.5 L1049.5,977.4 L1050.0,972.5 L1050.4,972.7 L1050.9,972.5 L1051.3,972.6 L1051.8,979.2 L1052.2,975.9 L1052.7,971.6 L1053.1,972.4 L1053.6,971.4 L1054.0,977.3 L1054.5,977.6 L1054.9,976.6 L1055.4,976.2 L1055.8,972.0 L1056.3,970.6 L1056.7,977.4 L1057.2,975.9 L1057.6,971.6 L1058.1,976.9 L1058.5,976.7 L1059.0,975.1 L1059.4,976.5 L1059.9,976.2 L1060.3,971.5 L1060.8,971.8 L1061.2,973.4 L1061.7,975.1 L1062.1,971.5 L1062.6,977.7 L1063.0,975.1 L1063.5,977.2 L1063.9,971.3 L1064.4,973.3 L1064.8,977.3 L1065.3,977.5 L1065.7,972.5 L1066.2,977.3 L1066.6,971.3 L1067.1,971.0 L1067.5,977.2 L1068.0,973.2 L1068.4,972.7 L1068.9,976.7 L1069.3,973.6 L1069.8,977.0 L1070.2,976.6 L1070.7,975.1 L1071.1,972.5 L1071.6,971.9 L1072.0,971.5 L1072.5,970.9 L1072.9,976.8 L1073.4,972.2 L1073.8,977.4 L1074.3,976.3 L1074.7,971.5 L1075.2,977.2 L1075.6,972.5 L1076.1,973.2 L1076.5,976.8 L1077.0,972.8 L1077.4,977.3 L1077.9,972.7 L1078.3,977.8 L1078.8,978.0 L1079.2,972.6 L1079.7,972.3 L1080.1,977.1 L1080.6,975.3 L1081.0,977.8 L1081.5,970.9 L1081.9,973.4 L1082.4,977.5 L1082.8,973.6 L1083.3,973.2 L1083.7,975.0 L1084.2,976.6 L1084.6,972.8 L1085.1,976.7 L1085.5,977.2 L1086.0,971.3 L1086.4,971.1 L1086.9,971.2 L1087.3,977.1 L1087.8,971.0 L1088.2,976.9 L1088.7,971.0 L1089.1,973.0 L1089.6,978.2 L1090.0,977.7 L1090.5,972.4 L1090.9,970.9 L1091.4,972.1 L1091.8,972.3 L1092.3,977.7 L1092.7,975.1 L1093.2,971.0 L1093.6,977.7 L1094.1,977.7 L1094.5,971.7 L1095.0,975.6 L1095.4,973.6 L1095.9,976.1 L1096.3,977.5 L1096.8,978.0 L1097.2,971.1 L1097.7,975.5 L1098.1,975.9 L1098.6,972.1 L1099.0,972.2 L1099.5,977.5 L1099.9,973.5 L1100.4,973.4 L1100.8,971.1 L1101.3,976.6 L1101.7,977.8 L1102.2,976.2 L1102.6,978.0 L1103.1,977.5 L1103.5,976.8 L1104.0,972.3 L1104.4,977.7 L1104.9,978.0 L1105.3,971.3 L1105.8,977.4 L1106.2,973.1 L1106.7,972.1 L1107.1,976.9 L1107.6,971.2 L1108.0,971.1 L1108.5,972.3 L1108.9,976.2 L1109.4,976.0 L1109.8,978.0 L1110.3,977.7 L1110.7,977.6 L1111.2,973.0 L1111.6,972.9 L1112.1,972.0 L1112.5,971.4 L1113.0,977.2 L1113.4,976.9 L1113.9,977.7 L1114.3,978.1 L1114.8,978.2 L1115.2,972.3 L1115.7,977.4 L1116.1,978.2 L1116.6,974.1 L1117.0,976.4 L1117.5,971.4 L1117.9,972.2 L1118.4,977.8 L1118.8,978.2 L1119.3,976.4 L1119.7,972.7 L1120.2,976.8 L1120.6,972.6 L1121.1,972.1 L1121.5,971.8 L1122.0,972.4 L1122.4,976.1 L1122.9,976.0 L1123.3,976.4 L1123.8,971.2 L1124.2,971.5 L1124.7,971.6 L1125.1,972.8 L1125.6,976.9 L1126.0,971.8 L1126.5,972.7 L1126.9,978.0 L1127.4,971.7 L1127.8,978.1 L1128.3,974.5 L1128.7,971.6 L1129.2,971.8 L1129.6,975.3 L1130.1,972.0 L1130.5,972.0 L1131.0,972.2 L1131.4,975.1 L1131.9,971.2 L1132.3,974.3 L1132.8,976.3 L1133.2,972.2 L1133.7,971.8 L1134.1,971.3 L1134.6,975.6 L1135.0,978.2 L1135.5,976.4 L1135.9,976.5 L1136.4,977.3 L1136.8,972.3 L1137.3,978.5 L1137.7,976.7 L1138.2,977.8 L1138.6,977.8 L1139.1,979.5 L1139.5,978.4 L1140.0,973.3 L1140.4,972.3 L1140.9,977.1 L1141.3,972.9 L1141.8,972.1 L1142.2,972.8 L1142.7,978.6 L1143.1,974.2 L1143.6,977.7 L1144.0,977.6 L1144.5,972.1 L1144.9,978.0 L1145.4,971.6 L1145.8,972.9 L1146.3,978.5 L1146.7,977.6 L1147.2,978.0 L1147.6,978.3 L1148.1,978.0 L1148.5,976.6 L1149.0,978.0 L1149.4,978.2 L1149.9,978.6 L1150.3,978.5 L1150.8,978.6 L1151.2,972.4 L1151.7,972.3 L1152.1,974.0 L1152.6,974.6 L1153.0,977.3 L1153.5,973.3 L1153.9,977.9 L1154.4,978.5 L1154.8,973.4 L1155.3,977.1 L1155.7,973.0 L1156.2,978.1 L1156.6,971.4 L1157.1,971.4 L1157.5,978.0 L1158.0,976.8 L1158.4,973.0 L1158.9,973.1 L1159.3,976.9 L1159.8,971.7 L1160.2,977.4 L1160.7,977.2 L1161.1,971.9 L1161.6,971.6 L1162.0,972.2 L1162.5,978.6 L1162.9,972.4 L1163.4,976.9 L1163.8,973.4 L1164.3,978.7 L1164.7,978.8 L1165.2,978.1 L1165.6,976.3 L1166.1,972.2 L1166.5,974.0 L1167.0,972.5 L1167.4,971.8 L1167.9,978.3 L1168.3,973.3 L1168.8,978.4 L1169.2,971.8 L1169.7,973.9 L1170.1,973.2 L1170.6,977.1 L1171.0,976.0 L1171.5,978.5 L1171.9,973.3 L1172.4,971.7 L1172.8,977.4 L1173.3,974.0 L1173.7,978.5 L1174.2,977.8 L1174.6,973.0 L1175.1,978.7 L1175.5,972.1 L1176.0,976.6 L1176.4,973.5 L1176.9,977.2 L1177.3,977.9 L1177.8,976.3 L1178.2,978.8 L1178.7,978.1 L1179.1,973.4 L1179.6,977.6 L1180.0,972.7 L1180.5,976.6 L1180.9,978.0 L1181.4,972.1 L1181.8,978.4 L1182.3,977.8 L1182.7,972.9 L1183.2,972.8 L1183.6,978.8 L1184.1,972.3 L1184.5,978.7 L1185.0,973.0 L1185.4,971.9 L1185.9,973.5 L1186.3,978.8 L1186.8,972.4 L1187.2,974.0 L1187.7,977.1 L1188.1,972.9 L1188.6,977.9 L1189.0,976.5 L1189.5,977.8 L1189.9,973.3 L1190.4,976.1 L1190.8,977.1 L1191.3,977.9 L1191.7,978.2 L1192.2,973.2 L1192.6,972.7 L1193.1,971.8 L1193.5,977.8 L1194.0,973.7 L1194.4,971.9 L1194.9,977.2 L1195.3,977.1 L1195.8,977.9 L1196.2,978.7 L1196.7,973.1 L1197.1,978.1 L1197.6,972.3 L1198.0,976.1 L1198.5,977.4 L1198.9,972.0 L1199.4,971.8 L1199.8,975.4 L1200.3,977.3 L1200.7,973.6 L1201.2,972.7 L1201.6,978.0 L1202.1,972.1 L1202.5,977.8 L1203.0,978.5 L1203.4,977.8 L1203.9,977.2 L1204.3,972.0 L1204.8,977.6 L1205.2,972.7 L1205.7,976.9 L1206.1,972.7 L1206.6,972.5 L1207.0,977.4 L1207.5,978.1 L1207.9,977.5 L1208.4,978.2 L1208.8,971.5 L1209.3,972.1 L1209.7,971.7 L1210.2,976.4 L1210.6,971.6 L1211.1,971.9 L1211.5,977.1 L1212.0,973.0 L1212.4,972.4 L1212.9,972.4 L1213.3,978.1 L1213.8,971.6 L1214.2,971.6 L1214.7,973.8 L1215.1,977.1 L1215.6,976.7 L1216.0,975.8 L1216.5,972.5 L1216.9,978.9 L1217.4,978.8 L1217.8,978.8 L1218.3,974.4 L1218.7,974.1 L1219.2,977.6 L1219.6,973.1 L1220.1,973.6 L1220.5,972.3 L1221.0,975.9 L1221.4,972.3 L1221.9,972.3 L1222.3,976.5 L1222.8,978.8 L1223.2,978.7 L1223.7,977.7 L1224.1,971.7 L1224.6,971.5 L1225.0,977.7 L1225.5,972.7 L1225.9,972.2 L1226.4,978.9 L1226.8,971.7 L1227.3,973.2 L1227.7,978.1 L1228.2,971.9 L1228.6,972.1 L1229.1,974.3 L1229.5,978.6 L1230.0,974.4 L1230.4,972.0 L1230.9,976.5 L1231.3,972.4 L1231.8,971.6 L1232.2,977.6 L1232.7,978.8 L1233.1,977.7 L1233.6,978.1 L1234.0,970.9 L1234.5,972.4 L1234.9,972.7 L1235.4,978.2 L1235.8,974.2 L1236.3,978.5 L1236.7,971.8 L1237.2,977.0 L1237.6,974.5 L1238.1,972.4 L1238.5,978.5 L1239.0,971.9 L1239.4,972.0 L1239.9,974.1 L1240.3,977.1 L1240.8,973.9 L1241.2,977.7 L1241.7,974.3 L1242.1,977.4 L1242.6,972.5 L1243.0,977.5 L1243.5,972.1 L1243.9,976.8 L1244.4,972.5 L1244.8,972.5 L1245.3,978.0 L1245.7,977.1 L1246.2,971.6 L1246.6,978.8 L1247.1,971.6 L1247.5,972.5 L1248.0,972.4 L1248.4,978.6 L1248.9,978.6 L1249.3,971.0 L1249.8,977.9 L1250.2,978.8 L1250.7,972.3 L1251.1,972.2 L1251.6,971.9 L1252.0,978.5 L1252.5,971.5 L1252.9,976.4 L1253.4,975.5 L1253.8,976.8 L1254.3,971.8 L1254.7,976.3 L1255.2,972.9 L1255.6,977.8 L1256.1,978.2 L1256.5,974.1 L1257.0,977.2 L1257.4,973.8 L1257.9,978.8 L1258.3,973.2 L1258.8,977.7 L1259.2,978.3 L1259.7,973.3 L1260.1,977.9 L1260.6,976.9 L1261.0,978.9 L1261.5,971.8 L1261.9,977.5 L1262.4,975.9 L1262.8,973.6 L1263.3,977.2 L1263.7,977.7 L1264.2,978.6 L1264.6,977.6 L1265.1,977.4 L1265.5,973.8 L1266.0,972.2 L1266.4,973.9 L1266.9,972.6 L1267.3,973.2 L1267.8,971.9 L1268.2,978.8 L1268.7,978.6 L1269.1,978.2 L1269.6,977.8 L1270.0,972.6 L1270.5,971.6 L1270.9,978.5 L1271.4,973.0 L1271.8,977.9 L1272.3,978.0 L1272.7,971.9 L1273.2,972.9 L1273.6,973.3 L1274.1,978.8 L1274.5,976.1 L1275.0,976.2 L1275.4,973.6 L1275.9,977.5 L1276.3,971.8 L1276.8,972.8 L1277.2,971.6 L1277.7,977.6 L1278.1,972.2 L1278.6,977.5 L1279.0,977.8 L1279.5,972.6 L1279.9,971.6 L1280.4,972.4 L1280.8,978.8 L1281.3,976.8 L1281.7,976.8 L1282.2,972.9 L1282.6,970.6 L1283.1,973.3 L1283.5,971.9 L1284.0,978.8 L1284.4,972.7 L1284.9,972.2 L1285.3,972.9 L1285.8,977.5 L1286.2,977.7 L1286.7,978.6 L1287.1,978.2 L1287.6,978.2 L1288.0,978.3 L1288.5,977.4 L1288.9,971.5 L1289.4,978.5 L1289.8,977.3 L1290.3,977.3 L1290.7,972.1 L1291.2,978.8 L1291.6,977.2 L1292.1,972.4 L1292.5,971.6 L1293.0,972.0 L1293.4,973.3 L1293.9,972.1 L1294.3,972.6 L1294.8,976.0 L1295.2,972.6 L1295.7,972.8 L1296.1,977.9 L1296.6,972.3 L1297.0,973.4 L1297.5,977.2 L1297.9,978.4 L1298.4,977.3 L1298.8,972.5 L1299.3,973.9 L1299.7,974.2 L1300.2,971.9 L1300.6,974.5 L1301.1,972.5 L1301.5,972.0 L1302.0,973.3 L1302.4,978.7 L1302.9,971.8 L1303.3,977.8 L1303.8,978.4 L1304.2,978.3 L1304.7,978.7 L1305.1,972.5 L1305.6,978.4 L1306.0,971.8 L1306.5,978.6 L1306.9,977.7 L1307.4,974.1 L1307.8,972.4 L1308.3,973.3 L1308.7,978.8 L1309.2,971.2 L1309.6,977.2 L1310.1,971.6 L1310.5,977.8 L1311.0,972.5 L1311.4,976.9 L1311.9,972.1 L1312.3,978.7 L1312.8,978.3 L1313.2,978.5 L1313.7,972.5 L1314.1,978.5 L1314.6,972.4 L1315.0,973.9 L1315.5,972.3 L1315.9,976.7 L1316.4,973.6 L1316.8,971.5 L1317.3,972.5 L1317.7,975.8 L1318.2,974.7 L1318.6,977.0 L1319.1,978.2 L1319.5,978.9 L1320.0,972.5 L1320.4,973.0 L1320.9,973.1 L1321.3,971.6 L1321.8,972.2 L1322.2,971.5 L1322.7,972.6 L1323.1,976.5 L1323.6,972.1 L1324.0,972.0 L1324.5,972.1 L1324.9,976.0 L1325.4,978.5 L1325.8,972.5 L1326.3,976.7 L1326.7,973.6 L1327.2,977.3 L1327.6,978.7 L1328.1,978.7 L1328.5,971.7 L1329.0,970.8 L1329.4,972.8 L1329.9,978.8 L1330.3,973.7 L1330.8,978.3 L1331.2,977.2 L1331.7,972.0 L1332.1,977.3 L1332.6,978.1 L1333.0,978.8 L1333.5,971.8 L1333.9,976.6 L1334.4,977.5 L1334.8,972.5 L1335.3,976.0 L1335.7,971.8 L1336.2,977.0 L1336.6,977.4 L1337.1,971.5 L1337.5,977.4 L1338.0,977.2 L1338.4,978.7 L1338.9,972.5 L1339.3,978.7 L1339.8,973.6 L1340.2,978.5 L1340.7,977.7 L1341.1,977.3 L1341.6,972.0 L1342.0,972.4 L1342.5,971.6 L1342.9,973.6 L1343.4,971.8 L1343.8,978.7 L1344.3,973.2 L1344.7,973.9 L1345.2,974.2 L1345.6,977.4 L1346.1,973.3 L1346.5,977.9 L1347.0,977.2 L1347.4,977.6 L1347.9,972.3 L1348.3,972.9 L1348.8,978.2 L1349.2,978.3 L1349.7,976.8 L1350.1,971.6 L1350.6,977.7 L1351.0,970.6 L1351.5,972.2 L1351.9,971.5 L1352.4,972.7 L1352.8,980.1 L1353.3,972.0 L1353.7,978.8 L1354.2,973.1 L1354.6,973.0 L1355.1,974.4 L1355.5,971.7 L1356.0,972.2 L1356.4,977.0 L1356.9,972.7 L1357.3,977.7 L1357.8,974.7 L1358.2,978.6 L1358.7,971.7 L1359.1,977.5 L1359.6,977.6 L1360.0,978.1 L1360.5,971.9 L1360.9,972.3 L1361.4,978.1 L1361.8,972.5 L1362.3,977.3 L1362.7,972.1 L1363.2,976.7 L1363.6,977.1 L1364.1,972.6 L1364.5,976.2 L1365.0,971.6 L1365.4,972.4 L1365.9,977.2 L1366.3,977.0 L1366.8,972.4 L1367.2,977.3 L1367.7,972.1 L1368.1,977.9 L1368.6,977.6 L1369.0,978.0 L1369.5,973.0 L1369.9,971.7 L1370.4,971.8 L1370.8,975.8 L1371.3,978.6 L1371.7,974.2 L1372.2,972.0 L1372.6,976.0 L1373.1,977.6 L1373.5,977.9 L1374.0,971.8 L1374.4,974.5 L1374.9,977.3 L1375.3,973.0 L1375.8,977.6 L1376.2,973.3 L1376.7,978.6 L1377.1,977.0 L1377.6,974.1 L1378.0,972.7 L1378.5,978.8 L1378.9,972.0 L1379.4,977.0 L1379.8,971.8 L1380.3,977.9 L1380.7,971.8 L1381.2,971.9 L1381.6,971.7 L1382.1,977.9 L1382.5,971.9 L1383.0,972.2 L1383.4,978.2 L1383.9,972.2 L1384.3,973.8 L1384.8,972.0 L1385.2,978.8 L1385.7,972.6 L1386.1,978.5 L1386.6,974.3 L1387.0,976.9 L1387.5,974.2 L1387.9,977.7 L1388.4,972.3 L1388.8,971.9 L1389.3,973.1 L1389.7,972.6 L1390.2,978.9" fill="none" stroke="#fe0000" stroke-width="6.2" stroke-linejoin="round" stroke-linecap="butt"/>
<rect x="847.1" y="575.7" width="53.8" height="5.8" fill="#fe0000"/>
<text x="908.5" y="586.8" font-size="24.3">pn<tspan font-size="17.5" dy="-9">+</tspan><tspan dy="9">-Si/W-TMOS/Pt</tspan></text>
<defs>
<linearGradient id="pcBlob" x1="0" y1="100" x2="0" y2="1040" gradientUnits="userSpaceOnUse">
 <stop offset="0" stop-color="#99a4b3"/><stop offset="0.25" stop-color="#8794a6"/><stop offset="0.6" stop-color="#7d8ca1"/><stop offset="1" stop-color="#6c7d95"/>
</linearGradient>
<linearGradient id="pcTop" x1="0" y1="30" x2="0" y2="125" gradientUnits="userSpaceOnUse">
 <stop offset="0" stop-color="#1d1d1f"/><stop offset="0.18" stop-color="#3d3e40"/><stop offset="0.55" stop-color="#55585c"/><stop offset="0.85" stop-color="#8b9198"/><stop offset="1" stop-color="#a5adb6"/>
</linearGradient>
<linearGradient id="pcRight" x1="700" y1="0" x2="882" y2="0" gradientUnits="userSpaceOnUse">
 <stop offset="0" stop-color="#6d6a66"/><stop offset="0.3" stop-color="#4a4846"/><stop offset="0.42" stop-color="#2a2a2b"/><stop offset="0.55" stop-color="#0c0c0d"/><stop offset="0.7" stop-color="#101011"/><stop offset="0.85" stop-color="#262628"/><stop offset="1" stop-color="#161617"/>
</linearGradient>
<radialGradient id="bub" cx="0.5" cy="0.5" r="0.5">
 <stop offset="0" stop-color="#c4cad6" stop-opacity="0.35"/><stop offset="0.6" stop-color="#aab2c0" stop-opacity="0.5"/><stop offset="0.86" stop-color="#5b606b" stop-opacity="0.75"/><stop offset="1" stop-color="#30333a" stop-opacity="0.25"/>
</radialGradient>
<filter id="spark" x="0" y="0" width="1" height="1" color-interpolation-filters="sRGB">
 <feTurbulence type="fractalNoise" baseFrequency="0.33" numOctaves="2" seed="5" result="n"/>
 <feColorMatrix type="matrix" values="0 0 0 0 1  0 0 0 0 1  0 0 0 0 1  5.5 0 0 0 -2.7"/>
</filter>
<filter id="sparkD" x="0" y="0" width="1" height="1" color-interpolation-filters="sRGB">
 <feTurbulence type="fractalNoise" baseFrequency="0.28" numOctaves="2" seed="11" result="n"/>
 <feColorMatrix type="matrix" values="0 0 0 0 0.12  0 0 0 0 0.14  0 0 0 0 0.2  -5.5 0 0 0 2.55"/>
</filter>
<filter id="zb6" x="-50%" y="-50%" width="200%" height="200%"><feGaussianBlur stdDeviation="6"/></filter>
<filter id="zb25" x="-50%" y="-50%" width="200%" height="200%"><feGaussianBlur stdDeviation="28"/></filter>
<filter id="zb12" x="-50%" y="-50%" width="200%" height="200%"><feGaussianBlur stdDeviation="12"/></filter>
<filter id="zb1" x="-50%" y="-50%" width="200%" height="200%"><feGaussianBlur stdDeviation="1.5"/></filter>
<filter id="zb3" x="-50%" y="-50%" width="200%" height="200%"><feGaussianBlur stdDeviation="3"/></filter>
<clipPath id="pcInner"><path transform="translate(425,545) scale(0.27510)" d="M300,145 L470,128 L600,195 L642,330 L652,480 L642,640 L655,700 L600,780 L450,835 L350,812 L300,700 L288,500 L278,330 L285,200 Z"/></clipPath>
</defs>
<g clip-path="url(#clipPC)">
<g transform="translate(425,545) scale(0.27510)">
<rect x="30" y="25" width="860" height="1045" fill="#151517"/>
<rect x="30" y="25" width="860" height="100" fill="url(#pcTop)"/>
<rect x="700" y="95" width="190" height="975" fill="url(#pcRight)"/>
<rect x="800" y="25" width="90" height="100" fill="#161617" opacity="0.55" filter="url(#zb6)"/>
<rect x="20" y="25" width="70" height="100" fill="#19191b" opacity="0.5" filter="url(#zb6)"/>
<path d="M30,120 L95,120 L98,250 L55,330 L48,430 L58,590 L100,700 L93,870 L98,1000 L30,1010 Z" fill="#111113"/>
<path filter="url(#zb3)" fill="url(#pcBlob)" d="M95,118 L400,108 L700,104 L722,200 L705,262 L722,330 L748,560 L758,830 L742,935 L682,985 L400,1010 L200,1032 L100,1002 L93,870 L100,700 L58,590 L48,430 L55,330 L98,250 Z"/>
<path filter="url(#zb25)" fill="#566680" opacity="0.5" d="M70,260 L200,220 L240,1000 L110,1000 L105,870 L110,700 L70,590 L60,430 Z"/>
<path filter="url(#zb12)" fill="#aab3c0" opacity="0.55" d="M560,130 L705,125 L720,330 L745,560 L750,800 L640,820 L660,500 L640,300 Z"/>
<path d="M30,1005 L100,1002 L200,1032 L400,1012 L682,987 L742,937 L760,830 L890,830 L890,1070 L30,1070 Z" fill="#121214" opacity="0.9" filter="url(#zb3)"/>
<path d="M760,860 L860,860 L860,1000 L700,1030 Z" fill="#3a3b3d" opacity="0.6" filter="url(#zb6)"/>
<!-- inner bright area -->
<path filter="url(#zb6)" fill="#b3bac8" d="M300,145 L470,128 L600,195 L642,330 L652,480 L642,640 L655,700 L600,780 L450,835 L350,812 L300,700 L288,500 L278,330 L285,200 Z"/>
<path filter="url(#zb6)" fill="#8e98a8" opacity="0.8" d="M600,190 L690,230 L700,420 L690,600 L655,690 L645,480 L640,330 Z"/>
<path d="M640,300 C665,380 680,480 672,590" stroke="#eef2f8" stroke-width="9" fill="none" filter="url(#zb3)" opacity="0.9"/>
<path d="M283,150 C300,200 300,260 310,290" stroke="#3c4048" stroke-width="22" fill="none" filter="url(#zb6)" opacity="0.8"/>
<path d="M296,400 C288,450 292,510 310,545" stroke="#3c4048" stroke-width="14" fill="none" filter="url(#zb6)" opacity="0.7"/>
</g>
<rect x="500" y="578" width="110" height="200" filter="url(#spark)" clip-path="url(#pcInner)" opacity="0.85"/>
<rect x="500" y="578" width="110" height="200" filter="url(#sparkD)" clip-path="url(#pcInner)" opacity="0.4"/>
<g transform="translate(425,545) scale(0.27510)">
<!-- bubbles -->
<g stroke="#2a2c33" stroke-opacity="0.5" filter="url(#zb1)">
<circle cx="397" cy="212" r="62" fill="url(#bub)" stroke-width="7"/>
<circle cx="630" cy="370" r="44" fill="url(#bub)" stroke-width="6"/>
<circle cx="362" cy="470" r="64" fill="url(#bub)" stroke-width="7"/>
<circle cx="568" cy="712" r="50" fill="url(#bub)" stroke-width="7"/>
<circle cx="640" cy="692" r="30" fill="url(#bub)" stroke-width="5"/>
<circle cx="476" cy="772" r="34" fill="url(#bub)" stroke-width="5"/>
<circle cx="383" cy="762" r="28" fill="url(#bub)" stroke-width="5"/>
<circle cx="620" cy="488" r="24" fill="url(#bub)" stroke-width="4"/>
</g>
<g fill="none" stroke="#1d1f24" stroke-opacity="0.85" stroke-linecap="round" filter="url(#zb3)">
<path d="M420,155 A62,62 0 0 1 440,262" stroke-width="11"/>
<path d="M390,412 A64,64 0 0 1 405,525" stroke-width="11"/>
<path d="M655,335 A44,44 0 0 1 655,405" stroke-width="8"/>
<path d="M595,668 A50,50 0 0 1 600,752" stroke-width="10"/>
<path d="M300,160 A62,62 0 0 0 300,265" stroke-width="8" stroke-opacity="0.6"/>
<path d="M300,420 A64,64 0 0 0 305,520" stroke-width="8" stroke-opacity="0.6"/>
</g>
<g fill="#fff" filter="url(#zb3)">
<ellipse cx="375" cy="175" rx="22" ry="10" opacity="0.8"/><ellipse cx="615" cy="350" rx="14" ry="10" opacity="0.8"/>
<ellipse cx="340" cy="455" rx="18" ry="12" opacity="0.7"/><ellipse cx="550" cy="700" rx="16" ry="10" opacity="0.8"/>
<ellipse cx="470" cy="760" rx="12" ry="8" opacity="0.8"/><ellipse cx="650" cy="370" rx="6" ry="14" opacity="0.8"/>
</g>
<!-- glints -->
<g fill="#fff" filter="url(#zb6)">
<ellipse cx="170" cy="440" rx="11" ry="30"/><ellipse cx="170" cy="680" rx="16" ry="20"/><ellipse cx="166" cy="875" rx="11" ry="28"/>
</g>
<g fill="#e8edf5" opacity="0.9" filter="url(#zb3)">
<circle cx="250" cy="460" r="6"/><circle cx="262" cy="262" r="5"/><circle cx="155" cy="150" r="5"/><circle cx="120" cy="185" r="4"/><circle cx="215" cy="345" r="4"/>
<circle cx="200" cy="555" r="4"/><circle cx="275" cy="765" r="5"/><circle cx="270" cy="910" r="5"/><circle cx="215" cy="830" r="4"/><circle cx="330" cy="880" r="4"/>
<circle cx="120" cy="480" r="4"/><circle cx="735" cy="480" r="4"/><circle cx="420" cy="100" r="7"/><circle cx="600" cy="95" r="6"/><circle cx="180" cy="108" r="6"/>
<circle cx="520" cy="900" r="4"/><circle cx="430" cy="945" r="4"/><circle cx="600" cy="880" r="3"/><circle cx="225" cy="985" r="5"/><circle cx="105" cy="1000" r="4"/>
</g>
<circle cx="192" cy="236" r="10" fill="#2b2d33"/><circle cx="189" cy="233" r="3.5" fill="#dde"/>
<rect x="30" y="25" width="860" height="14" fill="#0a0a0b" opacity="0.6"/>
</g>
</g>
<defs>
<linearGradient id="pdBg" x1="0" y1="0" x2="1" y2="1">
 <stop offset="0" stop-color="#7d9dbb"/><stop offset="0.5" stop-color="#809fbb"/><stop offset="1" stop-color="#90adc5"/>
</linearGradient>
<filter id="sparkE" x="0" y="0" width="1" height="1" color-interpolation-filters="sRGB">
 <feTurbulence type="fractalNoise" baseFrequency="0.14" numOctaves="2" seed="8"/>
 <feColorMatrix type="matrix" values="0 0 0 0 0.82  0 0 0 0 0.84  0 0 0 0 0.92  3.2 0 0 0 -1.45"/>
 <feGaussianBlur stdDeviation="0.7"/>
</filter>
<clipPath id="pdInner"><path transform="translate(1150,545) scale(0.27503)" d="M62,95 L200,70 L740,55 L742,300 L722,860 L560,925 L330,1012 L100,1012 L72,600 Z"/></clipPath>
</defs>
<g clip-path="url(#clipPD)">
<g transform="translate(1150,545) scale(0.27503)">
<rect x="40" y="25" width="800" height="1020" fill="url(#pdBg)"/>
<path d="M740,60 L840,40 L840,1045 L330,1045 L560,925 L722,860 Z" fill="#86a4be" filter="url(#zb6)"/>
<path d="M720,860 L840,700 L840,1045 L400,1045 Z" fill="#9bb6ca" opacity="0.55" filter="url(#zb12)"/>
<path d="M750,250 C770,450 770,650 740,850" stroke="#7392b0" stroke-width="26" fill="none" opacity="0.7" filter="url(#zb12)"/>
<path filter="url(#zb6)" fill="#a9afca" d="M62,95 L200,70 L740,55 L742,300 L722,860 L560,925 L330,1012 L100,1012 L72,600 Z"/>
<path filter="url(#zb12)" fill="#b0b5d1" opacity="0.8" d="M120,180 L680,150 L670,800 L330,950 L130,930 Z"/>
<path filter="url(#zb12)" fill="#9aa6c6" opacity="0.5" d="M62,95 L160,95 L150,1000 L100,1012 L72,600 Z"/>
</g>
<rect x="1165" y="558" width="192" height="268" filter="url(#sparkE)" clip-path="url(#pdInner)" opacity="0.6"/>
<g transform="translate(1150,545) scale(0.27503)">
<g fill="#c3cae0" fill-opacity="0.6" stroke="#6f86a6" stroke-width="7" stroke-opacity="0.45" filter="url(#zb3)">
<circle cx="125" cy="115" r="32"/><circle cx="222" cy="92" r="24"/><circle cx="312" cy="122" r="34"/><circle cx="455" cy="100" r="30"/><circle cx="600" cy="80" r="26"/><circle cx="700" cy="85" r="24"/>
<circle cx="100" cy="998" r="44"/><circle cx="722" cy="275" r="22"/>
</g>
<g fill="#7a7a80" opacity="0.55" filter="url(#zb3)"><circle cx="128" cy="120" r="10"/><circle cx="310" cy="120" r="12"/><circle cx="452" cy="98" r="10"/><circle cx="238" cy="95" r="8"/><circle cx="598" cy="82" r="8"/></g>
<g fill="#eef1fa" filter="url(#zb3)" opacity="0.9"><circle cx="95" cy="75" r="14"/><circle cx="150" cy="60" r="9"/><circle cx="520" cy="85" r="12"/><circle cx="640" cy="60" r="10"/><circle cx="95" cy="1010" r="12"/><circle cx="560" cy="190" r="14"/><circle cx="300" cy="160" r="10"/></g>
</g>
</g>
<rect x="89.1" y="540.7" width="592.1" height="3" fill="#000"/>
<rect x="96.95" y="540.7" width="3.3" height="478" fill="#000"/>
<rect x="678.00" y="539.5" width="3.2" height="479.2" fill="#000"/>
<rect x="93.6" y="1008.2" width="587.6" height="3.3" fill="#000"/>
<rect x="93.4" y="571.9" width="5.2" height="3" fill="#000"/>
<text x="82.8" y="549.2" font-size="26" text-anchor="end">0</text>
<rect x="89.1" y="602.8" width="9.5" height="3.4" fill="#000"/>
<rect x="93.4" y="634.2" width="5.2" height="3" fill="#000"/>
<text x="82.8" y="611.5" font-size="26" text-anchor="end">-5</text>
<rect x="89.1" y="665.2" width="9.5" height="3.4" fill="#000"/>
<rect x="93.4" y="696.5" width="5.2" height="3" fill="#000"/>
<text x="45.23" y="673.9" font-size="26">-</text>
<path transform="translate(53.89,673.9) scale(26)" d="M0.393,0 H0.256 V-0.517 Q0.181,-0.447 0.079,-0.413 V-0.538 Q0.133,-0.556 0.196,-0.605 Q0.259,-0.654 0.282,-0.719 H0.393 Z"/>
<text x="68.34" y="673.9" font-size="26">0</text>
<rect x="89.1" y="727.5" width="9.5" height="3.4" fill="#000"/>
<rect x="93.4" y="758.9" width="5.2" height="3" fill="#000"/>
<text x="45.23" y="736.2" font-size="26">-</text>
<path transform="translate(53.89,736.2) scale(26)" d="M0.393,0 H0.256 V-0.517 Q0.181,-0.447 0.079,-0.413 V-0.538 Q0.133,-0.556 0.196,-0.605 Q0.259,-0.654 0.282,-0.719 H0.393 Z"/>
<text x="68.34" y="736.2" font-size="26">5</text>
<rect x="89.1" y="789.8" width="9.5" height="3.4" fill="#000"/>
<rect x="93.4" y="821.2" width="5.2" height="3" fill="#000"/>
<text x="82.8" y="798.5" font-size="26" text-anchor="end">-20</text>
<rect x="89.1" y="852.1" width="9.5" height="3.4" fill="#000"/>
<rect x="93.4" y="883.5" width="5.2" height="3" fill="#000"/>
<text x="82.8" y="860.9" font-size="26" text-anchor="end">-25</text>
<rect x="89.1" y="914.5" width="9.5" height="3.4" fill="#000"/>
<rect x="93.4" y="945.9" width="5.2" height="3" fill="#000"/>
<text x="82.8" y="923.2" font-size="26" text-anchor="end">-30</text>
<rect x="89.1" y="976.8" width="9.5" height="3.4" fill="#000"/>
<text x="82.8" y="985.5" font-size="26" text-anchor="end">-35</text>
<rect x="133.4" y="1010" width="3" height="4.5" fill="#000"/>
<text x="98.6" y="1046.5" font-size="26" text-anchor="middle">0</text>
<rect x="169.5" y="1010" width="3.4" height="8.7" fill="#000"/>
<rect x="206.0" y="1010" width="3" height="4.5" fill="#000"/>
<path transform="translate(163.97,1046.5) scale(26)" d="M0.393,0 H0.256 V-0.517 Q0.181,-0.447 0.079,-0.413 V-0.538 Q0.133,-0.556 0.196,-0.605 Q0.259,-0.654 0.282,-0.719 H0.393 Z"/>
<rect x="242.2" y="1010" width="3.4" height="8.7" fill="#000"/>
<rect x="278.7" y="1010" width="3" height="4.5" fill="#000"/>
<text x="243.8" y="1046.5" font-size="26" text-anchor="middle">2</text>
<rect x="314.8" y="1010" width="3.4" height="8.7" fill="#000"/>
<rect x="351.3" y="1010" width="3" height="4.5" fill="#000"/>
<text x="316.5" y="1046.5" font-size="26" text-anchor="middle">3</text>
<rect x="387.4" y="1010" width="3.4" height="8.7" fill="#000"/>
<rect x="423.9" y="1010" width="3" height="4.5" fill="#000"/>
<text x="389.1" y="1046.5" font-size="26" text-anchor="middle">4</text>
<rect x="460.0" y="1010" width="3.4" height="8.7" fill="#000"/>
<rect x="496.5" y="1010" width="3" height="4.5" fill="#000"/>
<text x="461.7" y="1046.5" font-size="26" text-anchor="middle">5</text>
<rect x="532.6" y="1010" width="3.4" height="8.7" fill="#000"/>
<rect x="569.2" y="1010" width="3" height="4.5" fill="#000"/>
<text x="534.4" y="1046.5" font-size="26" text-anchor="middle">6</text>
<rect x="605.3" y="1010" width="3.4" height="8.7" fill="#000"/>
<rect x="641.8" y="1010" width="3" height="4.5" fill="#000"/>
<text x="607.0" y="1046.5" font-size="26" text-anchor="middle">7</text>
<text x="679.6" y="1046.5" font-size="26" text-anchor="middle">8</text>
<text x="389.1" y="1083.4" font-size="31" text-anchor="middle">Time (h)</text>
<text transform="translate(33.2,775.7) rotate(-90)" font-size="31" text-anchor="middle">Current Density (mA/cm<tspan font-size="20" dy="-13.5">2</tspan><tspan dy="13.5">)</tspan></text>
<rect x="801.5" y="540.7" width="592.0" height="3" fill="#000"/>
<rect x="809.35" y="540.7" width="3.3" height="478" fill="#000"/>
<rect x="1390.30" y="539.5" width="3.2" height="479.2" fill="#000"/>
<rect x="806.0" y="1008.2" width="587.5" height="3.3" fill="#000"/>
<rect x="805.8" y="571.9" width="5.2" height="3" fill="#000"/>
<text x="795.2" y="549.2" font-size="26" text-anchor="end">0</text>
<rect x="801.5" y="602.8" width="9.5" height="3.4" fill="#000"/>
<rect x="805.8" y="634.2" width="5.2" height="3" fill="#000"/>
<text x="795.2" y="611.5" font-size="26" text-anchor="end">-5</text>
<rect x="801.5" y="665.2" width="9.5" height="3.4" fill="#000"/>
<rect x="805.8" y="696.5" width="5.2" height="3" fill="#000"/>
<text x="757.63" y="673.9" font-size="26">-</text>
<path transform="translate(766.29,673.9) scale(26)" d="M0.393,0 H0.256 V-0.517 Q0.181,-0.447 0.079,-0.413 V-0.538 Q0.133,-0.556 0.196,-0.605 Q0.259,-0.654 0.282,-0.719 H0.393 Z"/>
<text x="780.74" y="673.9" font-size="26">0</text>
<rect x="801.5" y="727.5" width="9.5" height="3.4" fill="#000"/>
<rect x="805.8" y="758.9" width="5.2" height="3" fill="#000"/>
<text x="757.63" y="736.2" font-size="26">-</text>
<path transform="translate(766.29,736.2) scale(26)" d="M0.393,0 H0.256 V-0.517 Q0.181,-0.447 0.079,-0.413 V-0.538 Q0.133,-0.556 0.196,-0.605 Q0.259,-0.654 0.282,-0.719 H0.393 Z"/>
<text x="780.74" y="736.2" font-size="26">5</text>
<rect x="801.5" y="789.8" width="9.5" height="3.4" fill="#000"/>
<rect x="805.8" y="821.2" width="5.2" height="3" fill="#000"/>
<text x="795.2" y="798.5" font-size="26" text-anchor="end">-20</text>
<rect x="801.5" y="852.1" width="9.5" height="3.4" fill="#000"/>
<rect x="805.8" y="883.5" width="5.2" height="3" fill="#000"/>
<text x="795.2" y="860.9" font-size="26" text-anchor="end">-25</text>
<rect x="801.5" y="914.5" width="9.5" height="3.4" fill="#000"/>
<rect x="805.8" y="945.9" width="5.2" height="3" fill="#000"/>
<text x="795.2" y="923.2" font-size="26" text-anchor="end">-30</text>
<rect x="801.5" y="976.8" width="9.5" height="3.4" fill="#000"/>
<text x="795.2" y="985.5" font-size="26" text-anchor="end">-35</text>
<rect x="845.8" y="1010" width="3" height="4.5" fill="#000"/>
<text x="811.0" y="1046.5" font-size="26" text-anchor="middle">0</text>
<rect x="881.9" y="1010" width="3.4" height="8.7" fill="#000"/>
<rect x="918.4" y="1010" width="3" height="4.5" fill="#000"/>
<path transform="translate(876.37,1046.5) scale(26)" d="M0.393,0 H0.256 V-0.517 Q0.181,-0.447 0.079,-0.413 V-0.538 Q0.133,-0.556 0.196,-0.605 Q0.259,-0.654 0.282,-0.719 H0.393 Z"/>
<rect x="954.5" y="1010" width="3.4" height="8.7" fill="#000"/>
<rect x="991.0" y="1010" width="3" height="4.5" fill="#000"/>
<text x="956.2" y="1046.5" font-size="26" text-anchor="middle">2</text>
<rect x="1027.1" y="1010" width="3.4" height="8.7" fill="#000"/>
<rect x="1063.6" y="1010" width="3" height="4.5" fill="#000"/>
<text x="1028.8" y="1046.5" font-size="26" text-anchor="middle">3</text>
<rect x="1099.8" y="1010" width="3.4" height="8.7" fill="#000"/>
<rect x="1136.3" y="1010" width="3" height="4.5" fill="#000"/>
<text x="1101.5" y="1046.5" font-size="26" text-anchor="middle">4</text>
<rect x="1172.4" y="1010" width="3.4" height="8.7" fill="#000"/>
<rect x="1208.9" y="1010" width="3" height="4.5" fill="#000"/>
<text x="1174.1" y="1046.5" font-size="26" text-anchor="middle">5</text>
<rect x="1245.0" y="1010" width="3.4" height="8.7" fill="#000"/>
<rect x="1281.5" y="1010" width="3" height="4.5" fill="#000"/>
<text x="1246.7" y="1046.5" font-size="26" text-anchor="middle">6</text>
<rect x="1317.6" y="1010" width="3.4" height="8.7" fill="#000"/>
<rect x="1354.1" y="1010" width="3" height="4.5" fill="#000"/>
<text x="1319.3" y="1046.5" font-size="26" text-anchor="middle">7</text>
<text x="1391.9" y="1046.5" font-size="26" text-anchor="middle">8</text>
<text x="1101.5" y="1083.4" font-size="31" text-anchor="middle">Time (h)</text>
<text transform="translate(745.6,775.7) rotate(-90)" font-size="31" text-anchor="middle">Current Density (mA/cm<tspan font-size="20" dy="-13.5">2</tspan><tspan dy="13.5">)</tspan></text>
<rect x="660.1" y="857" width="13.9" height="2.1" fill="#000"/>
<rect x="660.1" y="934.7" width="13.9" height="2.2" fill="#000"/>
<rect x="665.9" y="872" width="2.1" height="63" fill="#000"/>
<path d="M666.95,861 L671,878.6 L666.95,875 L662.9,878.6 Z" fill="#000"/>
<text x="598.00" y="905.6" font-size="22">2</text>
<path transform="translate(610.23,905.6) scale(22)" d="M0.393,0 H0.256 V-0.517 Q0.181,-0.447 0.079,-0.413 V-0.538 Q0.133,-0.556 0.196,-0.605 Q0.259,-0.654 0.282,-0.719 H0.393 Z"/>
<text x="622.46" y="905.6" font-size="22">.3%</text>
</svg>
</body></html>
